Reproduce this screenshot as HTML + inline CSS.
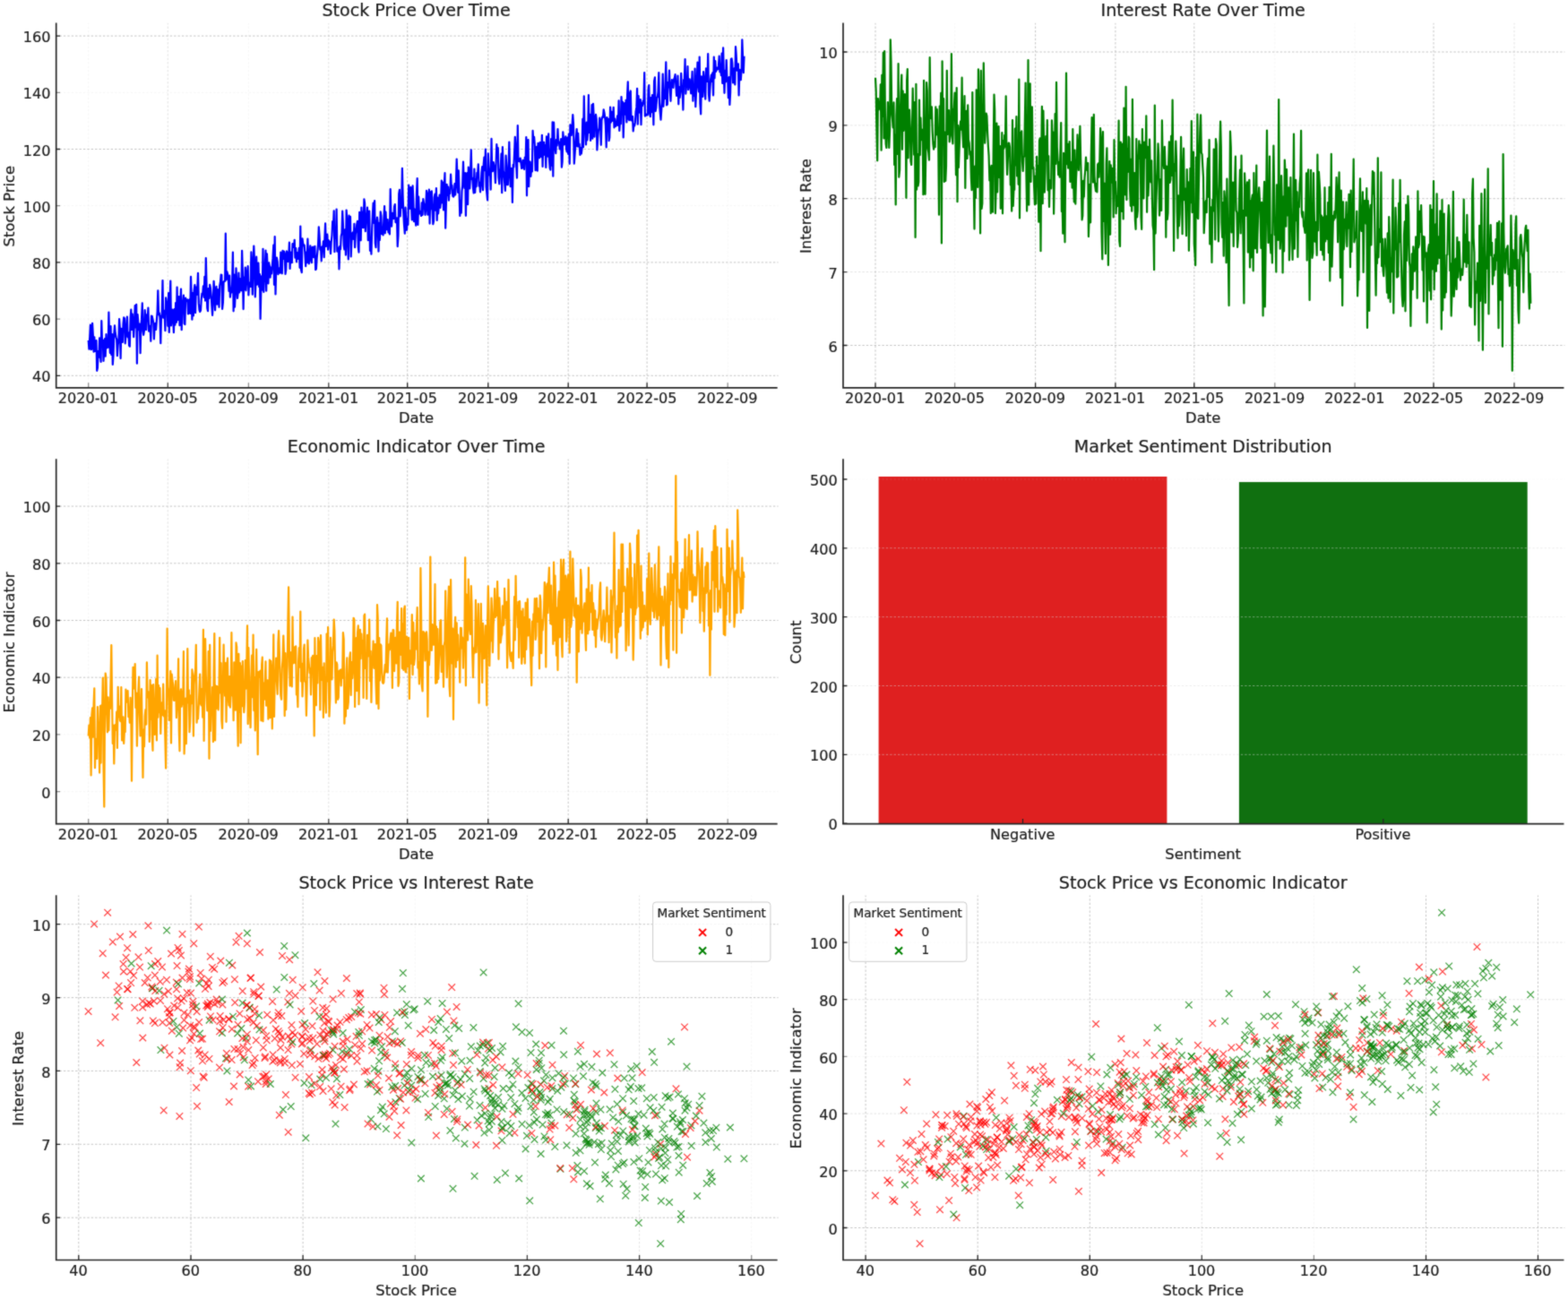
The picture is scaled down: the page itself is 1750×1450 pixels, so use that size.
<!DOCTYPE html>
<html lang="en"><head><meta charset="utf-8"><title>Market Data Overview</title><style>
html,body{margin:0;padding:0;background:#fff}
svg{display:block;filter:url(#bl);font-family:"DejaVu Sans","Liberation Sans",sans-serif}
text{fill:#1c1c1c;stroke:#222;stroke-width:.22px}
.tk{font-size:16.1px}
.lb{font-size:16.4px}
.ti{font-size:19.1px}
.lt{font-size:13.6px}
.grid{stroke:#c2c2c2;stroke-width:.95;stroke-dasharray:2.4 2;fill:none}
.gridb{stroke:#d9d9d9}
.spine{stroke:#262626;stroke-width:1.7;fill:none;stroke-linecap:square}
.tick{stroke:#262626;stroke-width:1.3;fill:none}
.ln{fill:none;stroke-width:2.2;stroke-linejoin:round}
.sc{fill:none;stroke-width:1.3;opacity:1}
.sc use{opacity:.7}
.lg{fill:#fff;fill-opacity:.8;stroke:#ccc;stroke-width:1}
</style></head><body><svg width="1750" height="1450" viewBox="0 0 1750 1450"><rect width="1750" height="1450" fill="#fff"/><defs><filter id="bl" x="0" y="0" width="100%" height="100%" color-interpolation-filters="sRGB"><feConvolveMatrix order="3" kernelMatrix="0.03 0.09 0.03 0.09 0.52 0.09 0.03 0.09 0.03" edgeMode="duplicate" preserveAlpha="false"/></filter><path id="m0" d="M-3.8-3.8l7.6 7.6m0-7.6l-7.6 7.6" stroke="#ff0000"/><path id="m1" d="M-3.8-3.8l7.6 7.6m0-7.6l-7.6 7.6" stroke="#008000"/></defs><path class="grid" opacity="1.0" d="M454.7 432.3V25.8M544.8 432.3V25.8M634.2 432.3V25.8M722.1 432.3V25.8M62.1 419.3H868.6M62.1 292.9H868.6M62.1 166.5H868.6M62.1 40.1H868.6"/><path class="grid" opacity="0.5" d="M187.3 432.3V25.8M366.8 432.3V25.8"/><path class="grid" opacity="0.16" d="M98.7 432.3V25.8M277.4 432.3V25.8M812.2 432.3V25.8M62.1 356.1H868.6M62.1 229.7H868.6M62.1 103.3H868.6"/>
<polyline class="ln" stroke="#0000ff" points="98.7,379.9 99.4,389.6 100.2,376.8 100.9,362.7 101.6,390.1 102.4,389.8 103.1,360.9 103.8,373.4 104.6,392.6 105.3,376.3 106,391.9 106.7,391.6 107.5,380.1 108.2,413.8 108.9,410.5 109.7,391.8 110.4,398.6 111.1,377.4 111.9,396.4 112.6,404 113.3,358.2 114.1,384.6 114.8,379.7 115.5,402.9 116.3,388.7 117,378 117.7,397.7 118.5,373.2 119.2,388.3 119.9,383.1 120.7,387.7 121.4,348.6 122.1,377.8 122.9,394 123.6,364 124.3,395.9 125.1,373 125.8,407 126.5,396.7 127.3,372.3 128,363.4 128.7,372 129.5,376.2 130.2,378.9 130.9,397.1 131.7,384.8 132.4,380.4 133.1,356.1 133.9,367.1 134.6,400.1 135.3,366.8 136.1,377.7 136.8,382 137.5,361.3 138.2,354.3 139,355.6 139.7,383.3 140.4,374.6 141.2,364.1 141.9,353.6 142.6,376.3 143.4,371.3 144.1,385.6 144.8,386.7 145.6,354.6 146.3,345.7 147,368 147.8,350.7 148.5,360.5 149.2,376.1 150,359.9 150.7,341 151.4,365.5 152.2,339.9 152.9,405.7 153.6,351 154.4,362.3 155.1,368.1 155.8,361.6 156.6,394.1 157.3,365.9 158,356.4 158.8,338.4 159.5,369.6 160.2,373.9 161,368.7 161.7,346 162.4,355 163.2,368.2 163.9,351.4 164.6,357.7 165.4,343.6 166.1,369.7 166.8,363.5 167.6,364.2 168.3,380.8 169,352.7 169.7,352.9 170.5,356.6 171.2,360.1 171.9,378.4 172.7,362.4 173.4,360.9 174.1,367.8 174.9,357.4 175.6,348.1 176.3,324.4 177.1,351.1 177.8,349.5 178.5,354.4 179.3,383.2 180,353 180.7,351.3 181.5,313 182.2,354.7 182.9,346.6 183.7,351.6 184.4,369.2 185.1,332.3 185.9,338.2 186.6,337.3 187.3,363.8 188.1,327 188.8,371 189.5,339.2 190.3,313.6 191,363.5 191.7,356.5 192.5,345.6 193.2,354.9 193.9,371.1 194.7,345.2 195.4,362.7 196.1,338.2 196.9,359.8 197.6,320.5 198.3,357.1 199.1,349.5 199.8,331.2 200.5,363.2 201.2,339.8 202,322.5 202.7,368.2 203.4,339.6 204.2,338.1 204.9,329.5 205.6,361.1 206.4,362.1 207.1,332.6 207.8,335.9 208.6,336.3 209.3,334.5 210,350.4 210.8,335.6 211.5,334.4 212.2,350 213,308.9 213.7,330.6 214.4,356.6 215.2,327 215.9,352.5 216.6,324.3 217.4,318.2 218.1,349.1 218.8,320.6 219.6,329 220.3,322.2 221,304.9 221.8,338.4 222.5,346.2 223.2,348 224,346.5 224.7,334.5 225.4,327.6 226.2,328.3 226.9,319.3 227.6,331.8 228.4,308.8 229.1,335.6 229.8,288.1 230.6,320.9 231.3,344 232,347.1 232.7,322.2 233.5,333 234.2,317.9 234.9,321.4 235.7,329.7 236.4,341.6 237.1,351.9 237.9,334.7 238.6,313.8 239.3,323.6 240.1,346.3 240.8,323.6 241.5,319.9 242.3,339.7 243,323 243.7,324.2 244.5,342.8 245.2,318.8 245.9,315.3 246.7,306.7 247.4,306.9 248.1,344.9 248.9,337.7 249.6,314.4 250.3,314.1 251.1,313.8 251.8,260.7 252.5,312.3 253.3,303 254,305.6 254.7,310 255.5,325 256.2,307.7 256.9,331.6 257.7,322.8 258.4,326.4 259.1,317.1 259.9,281.6 260.6,347.3 261.3,306.6 262,342.7 262.8,324.3 263.5,299.3 264.2,315.2 265,332.9 265.7,326.9 266.4,304.5 267.2,326.5 267.9,311.2 268.6,313.6 269.4,324.3 270.1,279.8 270.8,303.4 271.6,345.1 272.3,309.8 273,322.9 273.8,298.6 274.5,324.3 275.2,313.3 276,303.2 276.7,297.2 277.4,329.5 278.2,315.5 278.9,317.4 279.6,319.9 280.4,281.4 281.1,302.6 281.8,328.6 282.6,293.8 283.3,274.5 284,291.4 284.8,331.4 285.5,314.7 286.2,286.7 287,317.6 287.7,299.1 288.4,293.5 289.2,320.1 289.9,306.1 290.6,356 291.4,320.7 292.1,308.2 292.8,323.6 293.5,277.8 294.3,325.9 295,309.9 295.7,300.6 296.5,279.5 297.2,324.7 297.9,283.3 298.7,301.2 299.4,316.5 300.1,293.4 300.9,297.3 301.6,309.6 302.3,298.7 303.1,305.5 303.8,297.4 304.5,288.4 305.3,273.5 306,317.8 306.7,264.2 307.5,328.4 308.2,299.6 308.9,287.6 309.7,292.2 310.4,306.1 311.1,299.3 311.9,303.5 312.6,304.7 313.3,281.6 314.1,289.1 314.8,305.3 315.5,279.9 316.3,288.9 317,280.6 317.7,283.2 318.5,305.9 319.2,301.4 319.9,280.4 320.7,282.2 321.4,291.9 322.1,289.4 322.9,270.7 323.6,300 324.3,281.6 325,293.2 325.8,293.1 326.5,272 327.2,276 328,275.9 328.7,267.8 329.4,287.7 330.2,277 330.9,292.3 331.6,282 332.4,288.9 333.1,285 333.8,276.8 334.6,298.8 335.3,252.5 336,301.1 336.8,304.1 337.5,266.3 338.2,271.8 339,274.1 339.7,273.7 340.4,283.5 341.2,297.2 341.9,281.5 342.6,293.1 343.4,266.7 344.1,284.1 344.8,294.5 345.6,286.2 346.3,274.3 347,289.4 347.8,293.2 348.5,276 349.2,275.7 350,287.2 350.7,286.3 351.4,274.9 352.2,301.1 352.9,300.2 353.6,289 354.4,280.7 355.1,272.1 355.8,253.4 356.5,262.8 357.3,278.6 358,276 358.7,291.3 359.5,275.4 360.2,279.4 360.9,269.4 361.7,287.2 362.4,265.6 363.1,249.3 363.9,274.9 364.6,266.5 365.3,261.7 366.1,278.6 366.8,268.4 367.5,271.4 368.3,269.8 369,283.2 369.7,270.3 370.5,262.5 371.2,247.1 371.9,254.6 372.7,235.4 373.4,281.2 374.1,255 374.9,265.6 375.6,233.6 376.3,280.6 377.1,280.8 377.8,276.7 378.5,300.4 379.3,274.9 380,278.2 380.7,263.6 381.5,260.2 382.2,235.7 382.9,250 383.7,273.8 384.4,278.5 385.1,256.3 385.9,284.6 386.6,234.5 387.3,244.5 388,270.2 388.8,289.5 389.5,240.7 390.2,263.6 391,241.9 391.7,286.4 392.4,270.3 393.2,260.5 393.9,259.5 394.6,267 395.4,249.8 396.1,276.2 396.8,261.2 397.6,256.8 398.3,250.2 399,246.8 399.8,275.5 400.5,281.6 401.2,236.9 402,251.5 402.7,268.3 403.4,231.6 404.2,254 404.9,236.9 405.6,254.1 406.4,222.3 407.1,226.8 407.8,258.2 408.6,238.6 409.3,243.4 410,231.7 410.8,268.2 411.5,241.8 412.2,235.6 413,279.8 413.7,270.4 414.4,283.6 415.2,255.3 415.9,239.4 416.6,226.7 417.4,248.9 418.1,224.1 418.8,271.3 419.5,276.1 420.3,249.7 421,242.5 421.7,248.7 422.5,280.6 423.2,249 423.9,267.9 424.7,236.4 425.4,240.8 426.1,261.2 426.9,254.1 427.6,262.4 428.3,246.4 429.1,230 429.8,260.3 430.5,236.5 431.3,252.5 432,256.3 432.7,245.2 433.5,259.5 434.2,251.6 434.9,261.5 435.7,211.2 436.4,241.3 437.1,252.6 437.9,237.9 438.6,242.7 439.3,244.1 440.1,230.6 440.8,228 441.5,248.1 442.3,248.5 443,243.4 443.7,275.1 444.5,262.4 445.2,216.5 445.9,211.8 446.7,241.4 447.4,228 448.1,231.9 448.9,187.9 449.6,218.5 450.3,237.9 451,250.7 451.8,260.6 452.5,231.7 453.2,246.6 454,256.8 454.7,244.2 455.4,250.8 456.2,206.7 456.9,219.1 457.6,232.8 458.4,209 459.1,230.9 459.8,245.4 460.6,207.4 461.3,222.6 462,247.2 462.8,233.5 463.5,244 464.2,251.7 465,214.9 465.7,199.1 466.4,251 467.2,219.7 467.9,238.6 468.6,235.7 469.4,237 470.1,241 470.8,226.3 471.6,239.8 472.3,222.1 473,226.9 473.8,229.5 474.5,239.8 475.2,234.2 476,212.9 476.7,216.6 477.4,239.6 478.2,222.3 478.9,211.7 479.6,249.6 480.3,214.3 481.1,233.1 481.8,213.3 482.5,234 483.3,250.2 484,247 484.7,220.3 485.5,216.6 486.2,234.7 486.9,210 487.7,246 488.4,220.5 489.1,238.3 489.9,229.1 490.6,217.7 491.3,231.8 492.1,223.9 492.8,201.6 493.5,226.3 494.3,203.7 495,234.4 495.7,207.9 496.5,193.2 497.2,254.7 497.9,227.9 498.7,205.9 499.4,217.9 500.1,208.5 500.9,223.6 501.6,212.4 502.3,215.9 503.1,194.7 503.8,208.8 504.5,207.1 505.3,218.7 506,219.6 506.7,218.4 507.5,205 508.2,217.5 508.9,206 509.7,177.5 510.4,196.2 511.1,214.8 511.8,190.3 512.6,215.4 513.3,240.9 514,224.3 514.8,237.6 515.5,213.3 516.2,207.1 517,180.6 517.7,201.6 518.4,209.9 519.2,193.1 519.9,240.8 520.6,201.8 521.4,193 522.1,228.2 522.8,186.5 523.6,198.9 524.3,210.5 525,193.6 525.8,167.4 526.5,200.1 527.2,198.8 528,209.6 528.7,215.5 529.4,188.6 530.2,214.9 530.9,200 531.6,208.3 532.4,192.9 533.1,194.9 533.8,183.4 534.6,207.6 535.3,203.5 536,214.3 536.8,205.6 537.5,192.3 538.2,186 539,212.2 539.7,183.6 540.4,175.6 541.2,190.1 541.9,166.7 542.6,208.3 543.3,215.4 544.1,223.5 544.8,171.4 545.5,184.4 546.3,195.3 547,189.7 547.7,211.6 548.5,154.9 549.2,191.1 549.9,191.1 550.7,181.1 551.4,184.6 552.1,188.4 552.9,204.1 553.6,183.8 554.3,161.2 555.1,169.4 555.8,165.2 556.5,198.1 557.3,205.3 558,191.4 558.7,188.2 559.5,171.5 560.2,215.2 560.9,164 561.7,190.3 562.4,194.2 563.1,203.2 563.9,213 564.6,173.5 565.3,185.1 566.1,206.3 566.8,206.1 567.5,190.6 568.3,158.6 569,188.7 569.7,208.1 570.5,187.9 571.2,188 571.9,226 572.7,183.9 573.4,186.4 574.1,171.4 574.8,152.9 575.6,164 576.3,185.7 577,198.6 577.8,140.2 578.5,179.6 579.2,180 580,180.3 580.7,176.5 581.4,181.6 582.2,188 582.9,187.3 583.6,178.8 584.4,186.6 585.1,189 585.8,175.7 586.6,181.1 587.3,153 588,218.3 588.8,158.9 589.5,156.1 590.2,208.2 591,180.6 591.7,180.7 592.4,196.8 593.2,186.5 593.9,191.4 594.6,145.9 595.4,158.5 596.1,152.9 596.8,161.2 597.6,190.1 598.3,180.3 599,163.9 599.8,190.7 600.5,159.8 601.2,174.5 602,176.3 602.7,158.9 603.4,162.8 604.2,175.2 604.9,150.8 605.6,185.9 606.3,158.8 607.1,158.8 607.8,172.8 608.5,162.4 609.3,187 610,152.3 610.7,169.5 611.5,174.6 612.2,149.4 612.9,176.8 613.7,187.6 614.4,189.6 615.1,155.1 615.9,184.6 616.6,136.4 617.3,196.7 618.1,136.7 618.8,159.8 619.5,164.4 620.3,171.1 621,155.9 621.7,162.5 622.5,144.1 623.2,159.4 623.9,158.5 624.7,166.4 625.4,161.2 626.1,155.1 626.9,186.7 627.6,180.6 628.3,147.3 629.1,156 629.8,161.3 630.5,157.8 631.3,152.3 632,166 632.7,169.4 633.5,153.7 634.2,172 634.9,149.7 635.7,182.8 636.4,139.3 637.1,147.8 637.8,150.9 638.6,139.1 639.3,128 640,137.9 640.8,182.7 641.5,173.5 642.2,162.9 643,152.3 643.7,144.2 644.4,163.5 645.2,148.8 645.9,163.4 646.6,160.8 647.4,173 648.1,165.1 648.8,171.5 649.6,165.3 650.3,132.9 651,164.2 651.8,107.3 652.5,140.8 653.2,145.4 654,161.5 654.7,136.6 655.4,156.4 656.2,145.1 656.9,106.2 657.6,147.9 658.4,127.9 659.1,156.9 659.8,146 660.6,117.1 661.3,154.7 662,115.8 662.8,133 663.5,152.7 664.2,133.5 665,127.8 665.7,133.1 666.4,167.4 667.2,153.8 667.9,145.9 668.6,142.8 669.3,131.5 670.1,138.2 670.8,161.8 671.5,134.4 672.3,130.4 673,130.9 673.7,122.3 674.5,125.9 675.2,131.5 675.9,139.6 676.7,164.4 677.4,131 678.1,134.2 678.9,132.9 679.6,157.1 680.3,153.6 681.1,119.6 681.8,136.6 682.5,124.9 683.3,134.9 684,134.5 684.7,119.8 685.5,142.5 686.2,132.5 686.9,141 687.7,140.3 688.4,138 689.1,129.3 689.9,140 690.6,112.3 691.3,146 692.1,134.5 692.8,138.1 693.5,108 694.3,127.5 695,113.9 695.7,153.4 696.5,125.4 697.2,115.2 697.9,127.7 698.6,111.8 699.4,136.5 700.1,105.8 700.8,91.4 701.6,133.1 702.3,134.1 703,103.8 703.8,101.5 704.5,134.4 705.2,132.5 706,130 706.7,146.4 707.4,139.4 708.2,140.4 708.9,136.4 709.6,124.5 710.4,119.9 711.1,98.8 711.8,138.7 712.6,107.1 713.3,125.7 714,122.8 714.8,111 715.5,139.1 716.2,115 717,118.1 717.7,112.7 718.4,115.6 719.2,81 719.9,129.6 720.6,127.6 721.4,128.7 722.1,127.3 722.8,128.3 723.6,99.1 724.3,95.1 725,126.3 725.8,130.1 726.5,109.2 727.2,125.1 728,106 728.7,112.5 729.4,139.3 730.1,90.6 730.9,86.4 731.6,124.1 732.3,120.2 733.1,109.3 733.8,108.2 734.5,102.8 735.3,81.1 736,115.3 736.7,124.8 737.5,133.7 738.2,123.1 738.9,111.8 739.7,82.6 740.4,118.8 741.1,106.8 741.9,110.3 742.6,90.9 743.3,69.4 744.1,117.4 744.8,116.5 745.5,91.9 746.3,97.3 747,78.6 747.7,98.2 748.5,112.8 749.2,97.5 749.9,89 750.7,93.2 751.4,97.9 752.1,88.7 752.9,86.8 753.6,83.1 754.3,94.4 755.1,106.9 755.8,101.7 756.5,84.6 757.3,116.3 758,97.2 758.7,108.9 759.5,102 760.2,81.9 760.9,98.8 761.6,100.7 762.4,122.6 763.1,89 763.8,90.3 764.6,66 765.3,104.7 766,96.1 766.8,95.3 767.5,74 768.2,100.1 769,93.9 769.7,88.4 770.4,94.7 771.2,104.4 771.9,94 772.6,79.8 773.4,112.6 774.1,94 774.8,106.8 775.6,76.6 776.3,119.2 777,103.6 777.8,88.5 778.5,69.5 779.2,94.9 780,102.3 780.7,63.5 781.4,115.8 782.2,127.3 782.9,85.3 783.6,99.9 784.4,107.8 785.1,80.1 785.8,87.2 786.6,99.6 787.3,110.6 788,76.3 788.8,79.5 789.5,91 790.2,60 791,105.7 791.7,112.6 792.4,99.1 793.1,88.6 793.9,83.7 794.6,91 795.3,81.3 796.1,106.4 796.8,63.5 797.5,87.3 798.3,68 799,79.9 799.7,77.8 800.5,75.7 801.2,77.3 801.9,73.9 802.7,62.7 803.4,80.3 804.1,71.9 804.9,84.2 805.6,59.7 806.3,92.9 807.1,53.4 807.8,82.2 808.5,103.8 809.3,78.9 810,91.3 810.7,67 811.5,90.3 812.2,86.7 812.9,109.2 813.7,86.2 814.4,117 815.1,103.4 815.9,66 816.6,65.3 817.3,70.7 818.1,92.4 818.8,77.5 819.5,76.5 820.3,94.5 821,52.1 821.7,61.7 822.5,78.7 823.2,74.5 823.9,71.3 824.6,106.5 825.4,77.8 826.1,84.4 826.8,89.1 827.6,77.4 828.3,44.3 829,62.2 829.8,81.1 830.5,62.7"/>
<path class="spine" d="M62.7 26.4V432.8H866.8"/><text class="tk" x="98.4" y="449.9" text-anchor="middle">2020-01</text><text class="tk" x="187" y="449.9" text-anchor="middle">2020-05</text><text class="tk" x="277.1" y="449.9" text-anchor="middle">2020-09</text><text class="tk" x="366.5" y="449.9" text-anchor="middle">2021-01</text><text class="tk" x="454.4" y="449.9" text-anchor="middle">2021-05</text><text class="tk" x="544.5" y="449.9" text-anchor="middle">2021-09</text><text class="tk" x="633.9" y="449.9" text-anchor="middle">2022-01</text><text class="tk" x="721.8" y="449.9" text-anchor="middle">2022-05</text><text class="tk" x="811.9" y="449.9" text-anchor="middle">2022-09</text><text class="tk" x="56.5" y="426.4" text-anchor="end">40</text><text class="tk" x="56.5" y="363.2" text-anchor="end">60</text><text class="tk" x="56.5" y="300" text-anchor="end">80</text><text class="tk" x="56.5" y="236.8" text-anchor="end">100</text><text class="tk" x="56.5" y="173.6" text-anchor="end">120</text><text class="tk" x="56.5" y="110.4" text-anchor="end">140</text><text class="tk" x="56.5" y="47.2" text-anchor="end">160</text><path class="tick" opacity="1.0" d="M454.7 432.3v-5M544.8 432.3v-5M634.2 432.3v-5M722.1 432.3v-5M62.1 419.3h5M62.1 292.9h5M62.1 166.5h5M62.1 40.1h5"/><path class="tick" opacity="0.85" d="M187.3 432.3v-5M366.8 432.3v-5"/><path class="tick" opacity="0.5" d="M98.7 432.3v-5M277.4 432.3v-5M812.2 432.3v-5M62.1 356.1h5M62.1 229.7h5M62.1 103.3h5"/><text class="ti" x="464.6" y="18.4" text-anchor="middle">Stock Price Over Time</text><text class="lb" x="464.6" y="472" text-anchor="middle">Date</text><text class="lb" transform="translate(16.2 230.1) rotate(-90)" text-anchor="middle">Stock Price</text>
<path class="grid" opacity="1.0" d="M977 432.3V25.8M1155.6 432.3V25.8M1244.9 432.3V25.8M1332.8 432.3V25.8M1600 432.3V25.8M940.4 385.5H1746.4M940.4 221.7H1746.4M940.4 58H1746.4"/><path class="grid" opacity="0.5" d="M1690 432.3V25.8M940.4 303.6H1746.4M940.4 139.9H1746.4"/><path class="grid" opacity="0.16" d="M1065.6 432.3V25.8M1422.8 432.3V25.8M1512.1 432.3V25.8"/>
<polyline class="ln" stroke="#008000" points="977,86.7 977.7,101.1 978.4,143.1 979.2,179.3 979.9,110 980.6,122.7 981.4,117.1 982.1,121.3 982.8,94.4 983.6,167.7 984.3,83.8 985,129.8 985.8,58.9 986.5,154.5 987.2,57 987.9,129.6 988.7,160.9 989.4,165 990.1,148.5 990.9,114.1 991.6,133.7 992.3,164.9 993.1,145 993.8,44.3 994.5,68.6 995.3,127 996,133.2 996.7,142.5 997.5,114.4 998.2,184.1 998.9,150.4 999.7,228.4 1000.4,128.7 1001.1,110.1 1001.9,172 1002.6,71.2 1003.3,197.7 1004.1,189.8 1004.8,126 1005.5,105 1006.3,83.5 1007,166.8 1007.7,101.6 1008.4,146 1009.2,142 1009.9,105.2 1010.6,116.9 1011.4,220.8 1012.1,90.1 1012.8,77 1013.6,176.3 1014.3,128.9 1015,122.6 1015.8,142.9 1016.5,179.7 1017.2,184 1018,143.2 1018.7,98.7 1019.4,129.8 1020.2,172.7 1020.9,114.2 1021.6,265 1022.4,93.9 1023.1,211.6 1023.8,171.9 1024.6,207.5 1025.3,203.1 1026,111.5 1026.8,173.1 1027.5,131.7 1028.2,156.2 1028.9,144.6 1029.7,148.2 1030.4,217.2 1031.1,89.8 1031.9,179.1 1032.6,216.8 1033.3,167.6 1034.1,92 1034.8,101.7 1035.5,165.5 1036.3,170.4 1037,178.6 1037.7,64.2 1038.5,131.4 1039.2,132.1 1039.9,119.3 1040.7,147 1041.4,160.6 1042.1,166.7 1042.9,158.3 1043.6,164.2 1044.3,119.4 1045.1,150.3 1045.8,122.1 1046.5,146.8 1047.2,154.8 1048,239.7 1048.7,118.5 1049.4,140 1050.2,103.8 1050.9,271.5 1051.6,68.3 1052.4,155.9 1053.1,110.2 1053.8,203 1054.6,147.6 1055.3,202 1056,185.2 1056.8,78.8 1057.5,150 1058.2,148.9 1059,123.1 1059.7,158.3 1060.4,150.8 1061.2,146.2 1061.9,60.2 1062.6,151.8 1063.4,160.3 1064.1,122.5 1064.8,120.8 1065.6,103.7 1066.3,145.2 1067,195.3 1067.7,98.1 1068.5,225.2 1069.2,140 1069.9,186.9 1070.7,164.3 1071.4,143.4 1072.1,135.3 1072.9,144.6 1073.6,86.7 1074.3,147 1075.1,164.3 1075.8,135.2 1076.5,107.1 1077.3,209.9 1078,144.7 1078.7,123.9 1079.5,176.9 1080.2,117.4 1080.9,156.1 1081.7,159.7 1082.4,172.7 1083.1,169.4 1083.9,198.6 1084.6,212.1 1085.3,103.1 1086.1,201.4 1086.8,207.1 1087.5,255.6 1088.2,185.4 1089,221 1089.7,100.3 1090.4,118.1 1091.2,208.9 1091.9,77.3 1092.6,115.8 1093.4,184.6 1094.1,260.4 1094.8,78.9 1095.6,232.8 1096.3,227.2 1097,132.8 1097.8,70.4 1098.5,117.1 1099.2,159.7 1100,141.1 1100.7,126.5 1101.4,129.4 1102.2,149.7 1102.9,163.2 1103.6,173.6 1104.4,201.5 1105.1,186.8 1105.8,238.1 1106.5,184.8 1107.3,207.3 1108,236.7 1108.7,167.1 1109.5,105.5 1110.2,123.3 1110.9,238.1 1111.7,208.7 1112.4,137.5 1113.1,214.5 1113.9,179.1 1114.6,141.2 1115.3,198.1 1116.1,163 1116.8,232.8 1117.5,197.7 1118.3,148.2 1119,238.3 1119.7,157 1120.5,165.6 1121.2,150.8 1121.9,163.6 1122.7,107.3 1123.4,170.5 1124.1,195 1124.9,176.8 1125.6,159.5 1126.3,160 1127,164.1 1127.8,206.6 1128.5,205.1 1129.2,235.6 1130,134 1130.7,229.9 1131.4,212.1 1132.2,211.8 1132.9,143.5 1133.6,184.4 1134.4,130.2 1135.1,196.5 1135.8,162.1 1136.6,205.8 1137.3,88.6 1138,243.5 1138.8,148.1 1139.5,155.9 1140.2,146.3 1141,180.3 1141.7,191 1142.4,175.6 1143.2,174.3 1143.9,131.9 1144.6,92.5 1145.4,194.4 1146.1,235.6 1146.8,181.9 1147.5,67.1 1148.3,228.7 1149,116.5 1149.7,93.3 1150.5,202.9 1151.2,150.2 1151.9,119.4 1152.7,188.2 1153.4,186.8 1154.1,207.5 1154.9,228.3 1155.6,196.6 1156.3,227.4 1157.1,174.9 1157.8,206.5 1158.5,185.4 1159.3,247.7 1160,157 1160.7,154.4 1161.5,280.2 1162.2,174.5 1162.9,118.8 1163.7,227.2 1164.4,123.7 1165.1,159 1165.8,214.7 1166.6,190.9 1167.3,152 1168,179.1 1168.8,134.2 1169.5,212.3 1170.2,174.1 1171,231 1171.7,201.4 1172.4,208.9 1173.2,210.3 1173.9,134.4 1174.6,151.3 1175.4,147.6 1176.1,238.7 1176.8,197.7 1177.6,127.1 1178.3,182.9 1179,91.8 1179.8,164.3 1180.5,178.1 1181.2,195.1 1182,181.2 1182.7,197.6 1183.4,170.1 1184.2,137 1184.9,236.1 1185.6,225.1 1186.3,260.7 1187.1,170.9 1187.8,234.5 1188.5,270.3 1189.3,169.8 1190,81.5 1190.7,183.2 1191.5,160.5 1192.2,187.6 1192.9,186.6 1193.7,158.1 1194.4,203 1195.1,184.4 1195.9,180.9 1196.6,209.6 1197.3,144 1198.1,202.7 1198.8,225.5 1199.5,167.6 1200.3,227.6 1201,199.3 1201.7,185.7 1202.5,150.4 1203.2,169.4 1203.9,189.9 1204.6,166.4 1205.4,140.9 1206.1,175 1206.8,201.6 1207.6,245.4 1208.3,240.9 1209,201.8 1209.8,219.6 1210.5,198.7 1211.2,190.8 1212,175.7 1212.7,188.8 1213.4,190 1214.2,182.1 1214.9,264.1 1215.6,241.2 1216.4,205.8 1217.1,248.3 1217.8,174.4 1218.6,131.2 1219.3,136.9 1220,203.6 1220.8,127.9 1221.5,196.5 1222.2,207.4 1223,213.3 1223.7,204.9 1224.4,214.5 1225.1,183.8 1225.9,182.3 1226.6,197.6 1227.3,180 1228.1,143.2 1228.8,153.5 1229.5,259.1 1230.3,289.3 1231,147 1231.7,247 1232.5,204.5 1233.2,247.7 1233.9,283.2 1234.7,182.4 1235.4,165.3 1236.1,221.3 1236.9,295.9 1237.6,220.4 1238.3,180 1239.1,261.7 1239.8,184.4 1240.5,203.8 1241.3,187.9 1242,193.4 1242.7,242.5 1243.5,156.2 1244.2,202.9 1244.9,202.8 1245.6,238.3 1246.4,219.1 1247.1,230.2 1247.8,207.8 1248.6,134.7 1249.3,268.9 1250,274.9 1250.8,158.6 1251.5,203.6 1252.2,236 1253,160.6 1253.7,244.5 1254.4,120.6 1255.2,167.5 1255.9,217.4 1256.6,96.8 1257.4,223.1 1258.1,166.2 1258.8,192 1259.6,152.6 1260.3,154.7 1261,209.9 1261.8,229.8 1262.5,177.6 1263.2,235.7 1263.9,110.9 1264.7,213.7 1265.4,229.1 1266.1,193.2 1266.9,245.9 1267.6,255.8 1268.3,155 1269.1,242.3 1269.8,235.2 1270.5,178.7 1271.3,157.3 1272,176.9 1272.7,161.6 1273.5,242.3 1274.2,255.9 1274.9,144 1275.7,220.9 1276.4,221.4 1277.1,158.5 1277.9,175.3 1278.6,176.2 1279.3,129.4 1280.1,236.8 1280.8,163.8 1281.5,218.4 1282.3,198.2 1283,155.5 1283.7,188.3 1284.4,203.5 1285.2,179.3 1285.9,221.9 1286.6,251.5 1287.4,257.4 1288.1,301.2 1288.8,117.6 1289.6,260.6 1290.3,227.7 1291,207.1 1291.8,188.1 1292.5,160.4 1293.2,173.2 1294,240.6 1294.7,230.1 1295.4,200.2 1296.2,234.9 1296.9,134.4 1297.6,177.6 1298.4,181.3 1299.1,188 1299.8,163.8 1300.6,188 1301.3,264.8 1302,185.6 1302.8,245 1303.5,237.6 1304.2,181.4 1304.9,158.4 1305.7,203.9 1306.4,200.5 1307.1,151.9 1307.9,196 1308.6,111.7 1309.3,186.8 1310.1,280 1310.8,182.9 1311.5,190.7 1312.3,157.6 1313,177.7 1313.7,237 1314.5,265.8 1315.2,218.4 1315.9,252.3 1316.7,238.8 1317.4,190.2 1318.1,152.9 1318.9,206.5 1319.6,261.2 1320.3,193.8 1321.1,165.7 1321.8,223.2 1322.5,210.3 1323.2,228 1324,263.2 1324.7,189.2 1325.4,227.6 1326.2,203.4 1326.9,279.8 1327.6,245.5 1328.4,187.9 1329.1,226.2 1329.8,135 1330.6,237.1 1331.3,203.8 1332,169.5 1332.8,272.3 1333.5,282.9 1334.2,296.1 1335,175.6 1335.7,242.7 1336.4,127.7 1337.2,244.2 1337.9,206.1 1338.6,170.2 1339.4,143.3 1340.1,128.3 1340.8,170.3 1341.6,172.4 1342.3,186.1 1343,197.5 1343.7,260.2 1344.5,244.2 1345.2,227.1 1345.9,224.1 1346.7,237.2 1347.4,189.5 1348.1,176.8 1348.9,219.9 1349.6,156 1350.3,272.4 1351.1,231.1 1351.8,251.2 1352.5,292.9 1353.3,222.8 1354,235.5 1354.7,166.6 1355.5,190.8 1356.2,267.5 1356.9,155.2 1357.7,161.5 1358.4,205.9 1359.1,229.3 1359.9,269.5 1360.6,234.7 1361.3,166.6 1362.1,135.6 1362.8,163.5 1363.5,248.6 1364.2,265 1365,226.2 1365.7,285.7 1366.4,213.3 1367.2,223.4 1367.9,241.1 1368.6,293.2 1369.4,199.7 1370.1,246.5 1370.8,284.2 1371.6,341.1 1372.3,236.4 1373,146.7 1373.8,165 1374.5,259.4 1375.2,233.5 1376,203.5 1376.7,275 1377.4,215.5 1378.2,201.4 1378.9,174.7 1379.6,234.8 1380.4,237.2 1381.1,275.9 1381.8,266.4 1382.5,242.7 1383.3,212.4 1384,189.6 1384.7,260.5 1385.5,173.5 1386.2,239.1 1386.9,234.9 1387.7,279.4 1388.4,338.4 1389.1,193.3 1389.9,212 1390.6,240.7 1391.3,213.2 1392.1,203.4 1392.8,281.6 1393.5,251.9 1394.3,200.9 1395,298.5 1395.7,224.3 1396.5,287.5 1397.2,221.7 1397.9,217.5 1398.7,302.3 1399.4,193.1 1400.1,252.6 1400.9,277.3 1401.6,229.5 1402.3,184.7 1403,282 1403.8,251.5 1404.5,219.5 1405.2,209.4 1406,224.9 1406.7,244.2 1407.4,276.9 1408.2,225.9 1408.9,281.1 1409.6,352.4 1410.4,223 1411.1,202.8 1411.8,342.5 1412.6,274.6 1413.3,210 1414,145.5 1414.8,233.4 1415.5,270.9 1416.2,251.9 1417,174.5 1417.7,272.1 1418.4,282.5 1419.2,262 1419.9,293.4 1420.6,227.8 1421.4,162.7 1422.1,211.7 1422.8,262.3 1423.5,257.2 1424.3,303.6 1425,206.3 1425.7,234.3 1426.5,267.9 1427.2,111 1427.9,229.5 1428.7,277.7 1429.4,262.6 1430.1,196.2 1430.9,230.4 1431.6,304.4 1432.3,219.6 1433.1,280.4 1433.8,178.5 1434.5,193.9 1435.3,252.7 1436,189.2 1436.7,240.5 1437.5,217 1438.2,209.4 1438.9,290.5 1439.7,268.5 1440.4,198 1441.1,249.2 1441.8,246.9 1442.6,290 1443.3,227.5 1444,149.5 1444.8,277.7 1445.5,241 1446.2,200.8 1447,246.2 1447.7,214.4 1448.4,286.9 1449.2,225.8 1449.9,231.3 1450.6,205.1 1451.4,195.6 1452.1,145.9 1452.8,237.8 1453.6,242.5 1454.3,236.6 1455,252.3 1455.8,254.3 1456.5,259.8 1457.2,240.6 1458,193.4 1458.7,290.6 1459.4,200 1460.2,189.4 1460.9,248.6 1461.6,335 1462.3,269 1463.1,189.8 1463.8,250.7 1464.5,287.9 1465.3,282.2 1466,193.2 1466.7,236.1 1467.5,269.7 1468.2,247.9 1468.9,263.3 1469.7,284.9 1470.4,172.7 1471.1,257.3 1471.9,191.8 1472.6,202.9 1473.3,217.8 1474.1,279.2 1474.8,240.7 1475.5,243.2 1476.3,284.4 1477,242.6 1477.7,290.2 1478.5,209.4 1479.2,269.4 1479.9,241.2 1480.7,246.9 1481.4,267 1482.1,226 1482.8,282.1 1483.6,208.8 1484.3,313.6 1485,253.3 1485.8,171.9 1486.5,297.6 1487.2,271.6 1488,240.8 1488.7,245.6 1489.4,236 1490.2,243.3 1490.9,223.2 1491.6,198.1 1492.4,225.7 1493.1,270.3 1493.8,217.6 1494.6,192.3 1495.3,244.3 1496,309.9 1496.8,212.7 1497.5,260.5 1498.2,341.1 1499,225.3 1499.7,278.5 1500.4,269.8 1501.1,244.6 1501.9,250.8 1502.6,225.5 1503.3,275.1 1504.1,239.4 1504.8,254.7 1505.5,216.9 1506.3,239.3 1507,298.2 1507.7,212.7 1508.5,281 1509.2,228.8 1509.9,239.7 1510.7,177.7 1511.4,270.3 1512.1,266 1512.9,264 1513.6,258.5 1514.3,235.9 1515.1,330.4 1515.8,305.7 1516.5,312.4 1517.3,235.6 1518,199.3 1518.7,250.4 1519.5,257.8 1520.2,253.5 1520.9,214.3 1521.6,304 1522.4,246.3 1523.1,223.8 1523.8,235.6 1524.6,249.7 1525.3,210.1 1526,365.9 1526.8,224.2 1527.5,281.9 1528.2,346.9 1529,234.8 1529.7,228.9 1530.4,273.5 1531.2,226.5 1531.9,191.1 1532.6,216.2 1533.4,192.6 1534.1,235.2 1534.8,282.6 1535.6,329.7 1536.3,284.6 1537,294 1537.8,176.3 1538.5,287.3 1539.2,255.6 1539.9,258.2 1540.7,270.1 1541.4,192.3 1542.1,297.1 1542.9,266.6 1543.6,302.2 1544.3,308.1 1545.1,286.2 1545.8,266.7 1546.5,284.4 1547.3,301 1548,326.7 1548.7,260.4 1549.5,332.8 1550.2,242.1 1550.9,269.6 1551.7,337.1 1552.4,288.2 1553.1,303.4 1553.9,255.4 1554.6,200.7 1555.3,349.6 1556.1,266.5 1556.8,278.5 1557.5,231.9 1558.3,252.4 1559,309.6 1559.7,283.1 1560.4,308.7 1561.2,226.9 1561.9,270.2 1562.6,200.9 1563.4,269.4 1564.1,301.1 1564.8,329.7 1565.6,341.9 1566.3,334.1 1567,262.9 1567.8,247.4 1568.5,347.3 1569.2,228.5 1570,290.9 1570.7,263.2 1571.4,218.8 1572.2,238 1572.9,292.7 1573.6,297.8 1574.4,363.9 1575.1,310.5 1575.8,283.3 1576.6,323.2 1577.3,275.4 1578,282.8 1578.8,302.6 1579.5,298.4 1580.2,264.4 1580.9,268.9 1581.7,332.8 1582.4,213.4 1583.1,276.2 1583.9,272.7 1584.6,235.9 1585.3,259 1586.1,229 1586.8,258.4 1587.5,301.4 1588.3,263.9 1589,336.4 1589.7,264.4 1590.5,286.6 1591.2,284.2 1591.9,282.4 1592.7,360.3 1593.4,291.2 1594.1,277.4 1594.9,273 1595.6,324.5 1596.3,229.1 1597.1,334.3 1597.8,234 1598.5,257.2 1599.2,300.5 1600,202.1 1600.7,323.2 1601.4,251.8 1602.2,250.5 1602.9,302.8 1603.6,216.4 1604.4,294.4 1605.1,264.2 1605.8,275.2 1606.6,288 1607.3,235.4 1608,261.3 1608.8,367.6 1609.5,223.1 1610.2,346.5 1611,241.9 1611.7,238.6 1612.4,332.2 1613.2,315.6 1613.9,326.3 1614.6,284.9 1615.4,284.1 1616.1,245.1 1616.8,229.2 1617.6,240.9 1618.3,302.2 1619,294 1619.7,352.6 1620.5,326.7 1621.2,265.3 1621.9,213.8 1622.7,331 1623.4,317.4 1624.1,291.4 1624.9,288.6 1625.6,323 1626.3,265 1627.1,309.7 1627.8,295.3 1628.5,270.1 1629.3,289.8 1630,312.7 1630.7,300.3 1631.5,301.3 1632.2,307 1632.9,296 1633.7,222.7 1634.4,274 1635.1,292.6 1635.9,261.9 1636.6,298 1637.3,239.9 1638.1,283.2 1638.8,294 1639.5,270.3 1640.2,341.5 1641,340.8 1641.7,342.9 1642.4,300.7 1643.2,215.6 1643.9,199.6 1644.6,265.3 1645.4,281.9 1646.1,362.6 1646.8,314.3 1647.6,327.2 1648.3,317.1 1649,293.6 1649.8,311.4 1650.5,380.5 1651.2,251.8 1652,336 1652.7,275.6 1653.4,216.2 1654.2,316.7 1654.9,390.7 1655.6,306.6 1656.4,259.7 1657.1,211.4 1657.8,338.1 1658.5,287.5 1659.3,299.8 1660,279.1 1660.7,188.3 1661.5,350.5 1662.2,274.5 1662.9,280.1 1663.7,251.2 1664.4,285.2 1665.1,270.9 1665.9,317.3 1666.6,288.6 1667.3,307.7 1668.1,284.3 1668.8,301.1 1669.5,267 1670.3,290.6 1671,248.8 1671.7,299.5 1672.5,366.2 1673.2,247 1673.9,322.7 1674.7,334.7 1675.4,320 1676.1,249.3 1676.9,386.8 1677.6,172 1678.3,258.3 1679,291.6 1679.8,304.7 1680.5,296.6 1681.2,277.8 1682,277.1 1682.7,274.4 1683.4,306.2 1684.2,300.7 1684.9,319.3 1685.6,306.2 1686.4,240.6 1687.1,275.6 1687.8,413.8 1688.6,279.2 1689.3,286 1690,296.6 1690.8,300.1 1691.5,250.1 1692.2,241.4 1693,318.8 1693.7,289.9 1694.4,346.7 1695.2,360.6 1695.9,318.6 1696.6,265.3 1697.4,262.1 1698.1,270.8 1698.8,284.1 1699.5,287.7 1700.3,326.3 1701,284.5 1701.7,271.1 1702.5,254.7 1703.2,251.8 1703.9,268.1 1704.7,280.2 1705.4,256.9 1706.1,318.9 1706.9,344.6 1707.6,305.5 1708.3,338.8"/>
<path class="spine" d="M941 26.4V432.8H1744.6"/><text class="tk" x="976.7" y="449.9" text-anchor="middle">2020-01</text><text class="tk" x="1065.3" y="449.9" text-anchor="middle">2020-05</text><text class="tk" x="1155.3" y="449.9" text-anchor="middle">2020-09</text><text class="tk" x="1244.6" y="449.9" text-anchor="middle">2021-01</text><text class="tk" x="1332.5" y="449.9" text-anchor="middle">2021-05</text><text class="tk" x="1422.5" y="449.9" text-anchor="middle">2021-09</text><text class="tk" x="1511.8" y="449.9" text-anchor="middle">2022-01</text><text class="tk" x="1599.7" y="449.9" text-anchor="middle">2022-05</text><text class="tk" x="1689.7" y="449.9" text-anchor="middle">2022-09</text><text class="tk" x="934.8" y="392.6" text-anchor="end">6</text><text class="tk" x="934.8" y="310.7" text-anchor="end">7</text><text class="tk" x="934.8" y="228.8" text-anchor="end">8</text><text class="tk" x="934.8" y="147" text-anchor="end">9</text><text class="tk" x="934.8" y="65.1" text-anchor="end">10</text><path class="tick" opacity="1.0" d="M977 432.3v-5M1155.6 432.3v-5M1244.9 432.3v-5M1332.8 432.3v-5M1600 432.3v-5M940.4 385.5h5M940.4 221.7h5M940.4 58h5"/><path class="tick" opacity="0.85" d="M1690 432.3v-5M940.4 303.6h5M940.4 139.9h5"/><path class="tick" opacity="0.5" d="M1065.6 432.3v-5M1422.8 432.3v-5M1512.1 432.3v-5"/><text class="ti" x="1342.7" y="18.4" text-anchor="middle">Interest Rate Over Time</text><text class="lb" x="1342.7" y="472" text-anchor="middle">Date</text><text class="lb" transform="translate(905 230.1) rotate(-90)" text-anchor="middle">Interest Rate</text>
<path class="grid" opacity="1.0" d="M454.7 919.1V512.6M544.8 919.1V512.6M634.2 919.1V512.6M722.1 919.1V512.6M62.1 756.2H868.6M62.1 692.5H868.6M62.1 628.8H868.6M62.1 565.1H868.6"/><path class="grid" opacity="0.5" d="M187.3 919.1V512.6M366.8 919.1V512.6"/><path class="grid" opacity="0.16" d="M98.7 919.1V512.6M277.4 919.1V512.6M812.2 919.1V512.6M62.1 883.6H868.6M62.1 819.9H868.6"/>
<polyline class="ln" stroke="#ffa500" points="98.7,821.5 99.4,809.5 100.2,823.7 100.9,801.2 101.6,865.5 102.4,798.2 103.1,790.4 103.8,822.7 104.6,785.4 105.3,768.3 106,857.2 106.7,830.2 107.5,824.6 108.2,847 108.9,789 109.7,812.2 110.4,817.9 111.1,862.6 111.9,788.1 112.6,851.6 113.3,787.2 114.1,793.6 114.8,756.6 115.5,853.3 116.3,900.6 117,793.2 117.7,751.6 118.5,757.2 119.2,797.6 119.9,817.3 120.7,778.3 121.4,815.3 122.1,783.8 122.9,791 123.6,758.2 124.3,720.2 125.1,784 125.8,829.9 126.5,809.3 127.3,852.5 128,813.8 128.7,809.1 129.5,814.9 130.2,794.6 130.9,834.9 131.7,766.8 132.4,800.3 133.1,788.3 133.9,804 134.6,805.2 135.3,767.1 136.1,826.5 136.8,822 137.5,800.3 138.2,830 139,813.9 139.7,816.9 140.4,769.5 141.2,783.7 141.9,780.6 142.6,771.1 143.4,800.1 144.1,790.4 144.8,806.7 145.6,778.8 146.3,801.3 147,871.7 147.8,789.6 148.5,744.9 149.2,768.6 150,759.2 150.7,741 151.4,789.9 152.2,773.6 152.9,832.7 153.6,795.5 154.4,771.5 155.1,755.7 155.8,795.2 156.6,821.5 157.3,792.9 158,769 158.8,825.1 159.5,868 160.2,814.5 161,833.3 161.7,799.1 162.4,792.2 163.2,808.6 163.9,739.4 164.6,778.4 165.4,772.2 166.1,775.1 166.8,828 167.6,759 168.3,802.9 169,764.9 169.7,820.5 170.5,837.8 171.2,764 171.9,787.3 172.7,819.9 173.4,818.1 174.1,758.1 174.9,826.5 175.6,731.7 176.3,800.7 177.1,765.2 177.8,795.1 178.5,768 179.3,819 180,791.7 180.7,784.3 181.5,798.2 182.2,763.7 182.9,799.6 183.7,793 184.4,826.3 185.1,857.6 185.9,785.1 186.6,701.7 187.3,766.9 188.1,773.9 188.8,803.9 189.5,778.8 190.3,749.2 191,829.4 191.7,752.7 192.5,760 193.2,764.5 193.9,781.6 194.7,781.9 195.4,769.9 196.1,760.1 196.9,801.2 197.6,788.4 198.3,785.3 199.1,735.3 199.8,814.9 200.5,838.3 201.2,774.6 202,769.4 202.7,788.6 203.4,771.9 204.2,786 204.9,727.2 205.6,841.5 206.4,817.4 207.1,779.5 207.8,830.2 208.6,783.6 209.3,724.2 210,784.5 210.8,770.4 211.5,817.2 212.2,804.6 213,776.2 213.7,785.3 214.4,747.4 215.2,755.6 215.9,821.6 216.6,764.2 217.4,753 218.1,748.2 218.8,719.8 219.6,806.7 220.3,796.8 221,802.3 221.8,786.6 222.5,768.2 223.2,752.5 224,785.6 224.7,787.3 225.4,768.8 226.2,800.6 226.9,702.9 227.6,827 228.4,758.3 229.1,713.2 229.8,753.5 230.6,776.3 231.3,793.3 232,789.2 232.7,727.2 233.5,846.8 234.2,719.9 234.9,815.9 235.7,783.2 236.4,794.4 237.1,767.1 237.9,828.1 238.6,752 239.3,707.2 240.1,826.5 240.8,765.6 241.5,790.9 242.3,766.2 243,770.7 243.7,792.4 244.5,765.8 245.2,711.8 245.9,773.5 246.7,740.2 247.4,804.4 248.1,812.9 248.9,763.7 249.6,719.7 250.3,755.5 251.1,776.7 251.8,740 252.5,805.8 253.3,742 254,734.5 254.7,779.2 255.5,787.3 256.2,755.2 256.9,789.6 257.7,773.4 258.4,706.2 259.1,776.3 259.9,761.9 260.6,804.2 261.3,739.4 262,787 262.8,792.7 263.5,717.3 264.2,722.2 265,795.5 265.7,832.7 266.4,729.9 267.2,794.9 267.9,740.2 268.6,829.3 269.4,743.6 270.1,788.2 270.8,738.2 271.6,782 272.3,795.1 273,784.2 273.8,737.2 274.5,768.6 275.2,747.8 276,698.4 276.7,808.1 277.4,723.1 278.2,764.2 278.9,797.1 279.6,812.1 280.4,756.4 281.1,731.7 281.8,778.2 282.6,708.5 283.3,793.1 284,755.8 284.8,815.4 285.5,755.6 286.2,724.8 287,782 287.7,842.2 288.4,750.2 289.2,756 289.9,749.9 290.6,748.6 291.4,804.3 292.1,742.2 292.8,733.7 293.5,805.2 294.3,762.6 295,780.8 295.7,762.6 296.5,738.4 297.2,787.7 297.9,772.9 298.7,759.3 299.4,802.7 300.1,791 300.9,736.7 301.6,801.2 302.3,737.9 303.1,747.8 303.8,813.4 304.5,775.5 305.3,708.3 306,799.9 306.7,756.5 307.5,759.3 308.2,734.6 308.9,761.5 309.7,774.8 310.4,717.5 311.1,704 311.9,730.3 312.6,759.4 313.3,776.2 314.1,780.7 314.8,745.8 315.5,736.3 316.3,709.5 317,729.3 317.7,799.1 318.5,729.2 319.2,792.2 319.9,762.1 320.7,742.8 321.4,692.1 322.1,655.4 322.9,725.7 323.6,765.6 324.3,733.5 325,728 325.8,766.5 326.5,688.5 327.2,740.3 328,731.7 328.7,722.3 329.4,740.1 330.2,721.4 330.9,775.5 331.6,768.5 332.4,789.2 333.1,738.2 333.8,723.2 334.6,744.6 335.3,682.5 336,760.5 336.8,740.5 337.5,777.5 338.2,757.8 339,724.5 339.7,719.5 340.4,760.8 341.2,760.6 341.9,798.8 342.6,767.6 343.4,714.6 344.1,733.4 344.8,741 345.6,751.2 346.3,746.6 347,775.4 347.8,734 348.5,734.2 349.2,731.8 350,770.1 350.7,821.4 351.4,712.2 352.2,775.6 352.9,787.3 353.6,732.1 354.4,762.5 355.1,711.9 355.8,716.6 356.5,719.2 357.3,792.5 358,709.1 358.7,747 359.5,759.1 360.2,744.8 360.9,800.9 361.7,740.3 362.4,775.2 363.1,777.3 363.9,795.6 364.6,707.5 365.3,760.5 366.1,700.1 366.8,760.9 367.5,799.7 368.3,780.1 369,711.9 369.7,749.7 370.5,758.3 371.2,728 371.9,720.9 372.7,691.6 373.4,704.2 374.1,748.5 374.9,784.6 375.6,739.4 376.3,741.7 377.1,780.8 377.8,778.5 378.5,749 379.3,748.6 380,747.7 380.7,765.5 381.5,747 382.2,756.8 382.9,706.2 383.7,713.6 384.4,807.7 385.1,767.3 385.9,799.6 386.6,747.4 387.3,734.4 388,790.9 388.8,783.8 389.5,761.9 390.2,734.8 391,728.3 391.7,775.9 392.4,739.2 393.2,757.2 393.9,748 394.6,689.8 395.4,691.7 396.1,789.1 396.8,713.8 397.6,712.1 398.3,771.2 399,706.9 399.8,698.4 400.5,786.2 401.2,757.2 402,702.9 402.7,735.1 403.4,707.7 404.2,725.7 404.9,715.5 405.6,778.9 406.4,687.2 407.1,685.6 407.8,746 408.6,730.2 409.3,780 410,708.9 410.8,725.5 411.5,732.4 412.2,691.5 413,760.2 413.7,726.8 414.4,784 415.2,738 415.9,734.8 416.6,715.6 417.4,745.8 418.1,725.7 418.8,719 419.5,761.6 420.3,785.6 421,675 421.7,689.9 422.5,791.1 423.2,712.1 423.9,759.6 424.7,719.3 425.4,720.6 426.1,747.6 426.9,761.6 427.6,762.8 428.3,761.9 429.1,750.9 429.8,741.9 430.5,750.5 431.3,714.1 432,690.4 432.7,750.6 433.5,731.7 434.2,719.4 434.9,725.3 435.7,712.6 436.4,706.5 437.1,720.5 437.9,767.9 438.6,703.2 439.3,703.3 440.1,749.1 440.8,722.3 441.5,711.8 442.3,740.4 443,697 443.7,671.9 444.5,765.8 445.2,761.7 445.9,705.6 446.7,707.2 447.4,730.8 448.1,679.2 448.9,745.9 449.6,696.6 450.3,747.8 451,680.1 451.8,676.5 452.5,749.8 453.2,750.3 454,710.6 454.7,744 455.4,736.4 456.2,711.9 456.9,780.1 457.6,726.3 458.4,735.9 459.1,740.6 459.8,686.2 460.6,753.1 461.3,694.9 462,742 462.8,735.2 463.5,706.4 464.2,724.6 465,698.7 465.7,678.1 466.4,745.6 467.2,738.8 467.9,763.4 468.6,753.6 469.4,634.1 470.1,690.4 470.8,765.6 471.6,771.5 472.3,705.2 473,705.5 473.8,706.8 474.5,737.5 475.2,730.6 476,705.4 476.7,715 477.4,800 478.2,727.9 478.9,742.4 479.6,728.8 480.3,621.5 481.1,714.3 481.8,726 482.5,697.1 483.3,719.3 484,719.7 484.7,700.2 485.5,652.2 486.2,762.8 486.9,699.3 487.7,762 488.4,702 489.1,757.9 489.9,737.3 490.6,727.7 491.3,694.3 492.1,692.2 492.8,749.9 493.5,720.9 494.3,733.8 495,766.8 495.7,720.2 496.5,715.7 497.2,659.6 497.9,709.6 498.7,756.2 499.4,736.4 500.1,681.1 500.9,654.7 501.6,766.1 502.3,777.2 503.1,647.1 503.8,701.4 504.5,740.6 505.3,701.7 506,803.1 506.7,718.5 507.5,701.4 508.2,688.8 508.9,744.7 509.7,695.3 510.4,736.9 511.1,708.7 511.8,733 512.6,730.1 513.3,761.7 514,700.9 514.8,701 515.5,723.5 516.2,711.7 517,745.7 517.7,719.7 518.4,716 519.2,622.4 519.9,765.3 520.6,663.6 521.4,674.1 522.1,714.6 522.8,646.5 523.6,697 524.3,702.2 525,707.8 525.8,654 526.5,674.5 527.2,728.6 528,756.2 528.7,723.6 529.4,729.1 530.2,718.9 530.9,669.9 531.6,728.1 532.4,707.1 533.1,704.9 533.8,674 534.6,784.7 535.3,730.4 536,709.9 536.8,673.9 537.5,721.1 538.2,762 539,695.8 539.7,721.3 540.4,734.9 541.2,724.3 541.9,698.4 542.6,732.8 543.3,787.3 544.1,692.6 544.8,654.4 545.5,680.8 546.3,743.2 547,710.6 547.7,715.4 548.5,667.5 549.2,683.6 549.9,728.3 550.7,697.2 551.4,687 552.1,657.1 552.9,689 553.6,676.1 554.3,687.1 555.1,649 555.8,678.7 556.5,735.8 557.3,667.3 558,682.8 558.7,717.5 559.5,710.2 560.2,707.6 560.9,676.4 561.7,698.2 562.4,696.5 563.1,656.8 563.9,681.8 564.6,689.9 565.3,671.8 566.1,745.4 566.8,699.7 567.5,647 568.3,695.4 569,730.7 569.7,734.2 570.5,738 571.2,728.3 571.9,734.2 572.7,746 573.4,702 574.1,666.2 574.8,714.5 575.6,642.8 576.3,685.9 577,675.8 577.8,700.2 578.5,671.9 579.2,734 580,671.1 580.7,692 581.4,682.4 582.2,740.8 582.9,731.4 583.6,679.7 584.4,732.8 585.1,689 585.8,740.6 586.6,672.8 587.3,724.9 588,701 588.8,668.7 589.5,709.4 590.2,695 591,691.3 591.7,716.8 592.4,739.8 593.2,765.1 593.9,693.9 594.6,731.9 595.4,685.4 596.1,694 596.8,668.2 597.6,714 598.3,709.9 599,667.9 599.8,694 600.5,679 601.2,681.6 602,746.3 602.7,664.5 603.4,671.1 604.2,729.2 604.9,692.3 605.6,703.5 606.3,692.9 607.1,678 607.8,650 608.5,656 609.3,744.6 610,665.5 610.7,651.7 611.5,684.2 612.2,649.1 612.9,633.6 613.7,670.5 614.4,696.2 615.1,653.5 615.9,697 616.6,676.5 617.3,718.9 618.1,627.6 618.8,715.2 619.5,642.6 620.3,678.9 621,731.7 621.7,678.7 622.5,748.1 623.2,669 623.9,660.3 624.7,711.3 625.4,685.9 626.1,624.5 626.9,718.7 627.6,733.3 628.3,635.6 629.1,624.7 629.8,689.7 630.5,655.9 631.3,642.6 632,715.8 632.7,709.4 633.5,646.8 634.2,641.6 634.9,666.1 635.7,728.7 636.4,615.5 637.1,699.9 637.8,695.3 638.6,667.7 639.3,623.6 640,650.9 640.8,687.4 641.5,681.3 642.2,689.3 643,667.5 643.7,761.8 644.4,700.4 645.2,675.9 645.9,727.5 646.6,677.3 647.4,702.3 648.1,635.8 648.8,644.9 649.6,706.7 650.3,680.3 651,693.7 651.8,677 652.5,673.3 653.2,706 654,726 654.7,657.6 655.4,667.3 656.2,707.3 656.9,633.6 657.6,703.2 658.4,665 659.1,661.5 659.8,683.2 660.6,653.1 661.3,703 662,673.2 662.8,682.1 663.5,709.3 664.2,681.5 665,722.3 665.7,691.3 666.4,702 667.2,694.2 667.9,689.8 668.6,682.5 669.3,659.6 670.1,650.3 670.8,710.8 671.5,714.6 672.3,707.5 673,690 673.7,681.4 674.5,696.5 675.2,716.1 675.9,693.4 676.7,685.6 677.4,655.7 678.1,694 678.9,688.7 679.6,717.2 680.3,687 681.1,695.9 681.8,659.1 682.5,728.4 683.3,688 684,666.8 684.7,663.1 685.5,594.6 686.2,664.2 686.9,711.6 687.7,682.3 688.4,734.7 689.1,676.3 689.9,705.7 690.6,636 691.3,699.6 692.1,680 692.8,698.4 693.5,607.6 694.3,683 695,607.6 695.7,659.9 696.5,656.4 697.2,654.9 697.9,660.4 698.6,726.3 699.4,686.2 700.1,634.9 700.8,656.2 701.6,720.4 702.3,677.8 703,606.6 703.8,620 704.5,678.3 705.2,645 706,685.7 706.7,736.6 707.4,708.2 708.2,629.5 708.9,686 709.6,679 710.4,678.5 711.1,597.7 711.8,626.7 712.6,591.9 713.3,677 714,661 714.8,712.8 715.5,631.6 716.2,703.7 717,661.2 717.7,700.3 718.4,685.5 719.2,676.1 719.9,693.2 720.6,690 721.4,690.9 722.1,646.2 722.8,708.4 723.6,651.5 724.3,617.7 725,688.6 725.8,697 726.5,670.9 727.2,634 728,655.8 728.7,682.2 729.4,663.4 730.1,689.3 730.9,630.4 731.6,658.1 732.3,679 733.1,690.3 733.8,691.3 734.5,643.3 735.3,610.3 736,687 736.7,656.9 737.5,742.4 738.2,689.2 738.9,665.9 739.7,679.2 740.4,698.3 741.1,683.6 741.9,654.8 742.6,660.3 743.3,714.8 744.1,735.3 744.8,686.6 745.5,640.3 746.3,745.1 747,664.1 747.7,674.8 748.5,621.2 749.2,670 749.9,641.2 750.7,651.1 751.4,725.7 752.1,628.8 752.9,645.4 753.6,634.3 754.3,531.1 755.1,728.8 755.8,604.9 756.5,660.4 757.3,658 758,659 758.7,677 759.5,678.1 760.2,639.3 760.9,706.6 761.6,635.4 762.4,683.6 763.1,689.4 763.8,668.4 764.6,601.8 765.3,678.4 766,645.6 766.8,679.9 767.5,621.7 768.2,637.2 769,597 769.7,658.7 770.4,635 771.2,658.1 771.9,614.6 772.6,671.6 773.4,641.6 774.1,662.1 774.8,664.4 775.6,644.2 776.3,660.6 777,664.5 777.8,646.3 778.5,593.3 779.2,625 780,632.4 780.7,655.1 781.4,695.2 782.2,642.3 782.9,623.7 783.6,612 784.4,682.1 785.1,656.3 785.8,704.7 786.6,671.3 787.3,632.6 788,661.9 788.8,628.2 789.5,660.5 790.2,628.5 791,698.4 791.7,662.6 792.4,753.8 793.1,659.2 793.9,702.7 794.6,616 795.3,624.8 796.1,647.3 796.8,592.1 797.5,682.8 798.3,587.2 799,619.1 799.7,655.3 800.5,610.5 801.2,682.8 801.9,672.1 802.7,659.6 803.4,665.9 804.1,678.5 804.9,612 805.6,646.9 806.3,644.1 807.1,653.6 807.8,708 808.5,652.3 809.3,709.2 810,656.8 810.7,685.9 811.5,590.8 812.2,623.2 812.9,660.2 813.7,611.7 814.4,694.5 815.1,643.4 815.9,635.5 816.6,633.1 817.3,603.7 818.1,631.8 818.8,638.4 819.5,699.8 820.3,686.7 821,638.7 821.7,636.7 822.5,684.2 823.2,569.3 823.9,596.2 824.6,643.1 825.4,645.5 826.1,657.9 826.8,683.8 827.6,645.1 828.3,622.7 829,679.5 829.8,638.8 830.5,645.1"/>
<path class="spine" d="M62.7 513.2V919.6H866.8"/><text class="tk" x="98.4" y="936.7" text-anchor="middle">2020-01</text><text class="tk" x="187" y="936.7" text-anchor="middle">2020-05</text><text class="tk" x="277.1" y="936.7" text-anchor="middle">2020-09</text><text class="tk" x="366.5" y="936.7" text-anchor="middle">2021-01</text><text class="tk" x="454.4" y="936.7" text-anchor="middle">2021-05</text><text class="tk" x="544.5" y="936.7" text-anchor="middle">2021-09</text><text class="tk" x="633.9" y="936.7" text-anchor="middle">2022-01</text><text class="tk" x="721.8" y="936.7" text-anchor="middle">2022-05</text><text class="tk" x="811.9" y="936.7" text-anchor="middle">2022-09</text><text class="tk" x="56.5" y="890.7" text-anchor="end">0</text><text class="tk" x="56.5" y="827" text-anchor="end">20</text><text class="tk" x="56.5" y="763.3" text-anchor="end">40</text><text class="tk" x="56.5" y="699.6" text-anchor="end">60</text><text class="tk" x="56.5" y="635.9" text-anchor="end">80</text><text class="tk" x="56.5" y="572.2" text-anchor="end">100</text><path class="tick" opacity="1.0" d="M454.7 919.1v-5M544.8 919.1v-5M634.2 919.1v-5M722.1 919.1v-5M62.1 756.2h5M62.1 692.5h5M62.1 628.8h5M62.1 565.1h5"/><path class="tick" opacity="0.85" d="M187.3 919.1v-5M366.8 919.1v-5"/><path class="tick" opacity="0.5" d="M98.7 919.1v-5M277.4 919.1v-5M812.2 919.1v-5M62.1 883.6h5M62.1 819.9h5"/><text class="ti" x="464.6" y="505.2" text-anchor="middle">Economic Indicator Over Time</text><text class="lb" x="464.6" y="958.8" text-anchor="middle">Date</text><text class="lb" transform="translate(16.2 716.9) rotate(-90)" text-anchor="middle">Economic Indicator</text>
<rect x="980.6" y="532" width="321.8" height="387.1" fill="#df2020"/>
<rect x="1382.9" y="538.1" width="321.8" height="381" fill="#107010"/>
<path class="grid gridb" opacity="0.5" d="M940.4 842.3H1746.4M940.4 765.5H1746.4M940.4 688.7H1746.4M940.4 611.8H1746.4"/><path class="grid gridb" opacity="0.16" d="M940.4 535H1746.4"/>
<path class="spine" d="M941 513.2V919.6H1744.6"/><text class="tk" x="1141.2" y="936.7" text-anchor="middle">Negative</text><text class="tk" x="1543.5" y="936.7" text-anchor="middle">Positive</text><text class="tk" x="934.8" y="926.2" text-anchor="end">0</text><text class="tk" x="934.8" y="849.4" text-anchor="end">100</text><text class="tk" x="934.8" y="772.6" text-anchor="end">200</text><text class="tk" x="934.8" y="695.8" text-anchor="end">300</text><text class="tk" x="934.8" y="618.9" text-anchor="end">400</text><text class="tk" x="934.8" y="542.1" text-anchor="end">500</text><path class="tick" opacity="1.0" d="M1141.5 919.1v-5M1543.8 919.1v-5M940.4 919.1h5M940.4 842.3h5M940.4 765.5h5M940.4 688.7h5M940.4 611.8h5M940.4 535h5"/><text class="ti" x="1342.7" y="505.2" text-anchor="middle">Market Sentiment Distribution</text><text class="lb" x="1342.7" y="958.8" text-anchor="middle">Sentiment</text><text class="lb" transform="translate(894.2 716.9) rotate(-90)" text-anchor="middle">Count</text>
<path class="grid" opacity="1.0" d="M87.8 1406V999.5M213 1406V999.5M338.1 1406V999.5M62.1 1359.2H868.6M62.1 1277.3H868.6M62.1 1195.4H868.6M62.1 1113.6H868.6M62.1 1031.7H868.6"/><path class="grid" opacity="0.5" d="M588.4 1406V999.5M713.6 1406V999.5"/><path class="grid" opacity="0.16" d="M463.3 1406V999.5M838.7 1406V999.5"/>
<g class="sc"><use href="#m0" x="165.8" y="1061.1"/><use href="#m1" x="146.6" y="1075.5"/><use href="#m0" x="171.8" y="1117.5"/><use href="#m1" x="199.8" y="1153.7"/><use href="#m0" x="145.5" y="1084.4"/><use href="#m0" x="146.1" y="1097.1"/><use href="#m0" x="203.5" y="1091.5"/><use href="#m0" x="178.7" y="1095.7"/><use href="#m0" x="140.6" y="1068.8"/><use href="#m0" x="172.9" y="1142.1"/><use href="#m0" x="142.1" y="1058.2"/><use href="#m0" x="142.6" y="1104.2"/><use href="#m0" x="165.4" y="1033.3"/><use href="#m0" x="98.6" y="1128.9"/><use href="#m0" x="105.1" y="1031.4"/><use href="#m0" x="142.1" y="1104"/><use href="#m0" x="128.6" y="1135.3"/><use href="#m0" x="170.8" y="1139.4"/><use href="#m0" x="133.2" y="1122.9"/><use href="#m0" x="118" y="1088.5"/><use href="#m0" x="208.7" y="1108.1"/><use href="#m0" x="156.4" y="1139.3"/><use href="#m0" x="166.2" y="1119.4"/><use href="#m0" x="120.1" y="1018.7"/><use href="#m0" x="148.3" y="1043"/><use href="#m0" x="169.4" y="1101.4"/><use href="#m0" x="130.6" y="1107.6"/><use href="#m0" x="179" y="1116.9"/><use href="#m0" x="149.1" y="1088.8"/><use href="#m0" x="159.3" y="1158.5"/><use href="#m0" x="150.3" y="1124.8"/><use href="#m0" x="227.7" y="1202.8"/><use href="#m0" x="169.9" y="1103.1"/><use href="#m0" x="137.9" y="1084.5"/><use href="#m1" x="197.3" y="1146.4"/><use href="#m0" x="134" y="1045.6"/><use href="#m1" x="179.4" y="1172.1"/><use href="#m0" x="112.2" y="1164.2"/><use href="#m0" x="132.6" y="1100.4"/><use href="#m0" x="180.9" y="1079.4"/><use href="#m0" x="198.5" y="1057.9"/><use href="#m0" x="181.4" y="1141.2"/><use href="#m0" x="173" y="1076"/><use href="#m0" x="167.8" y="1120.4"/><use href="#m1" x="131.6" y="1116.4"/><use href="#m0" x="156" y="1079.6"/><use href="#m0" x="164.7" y="1091.3"/><use href="#m0" x="212.8" y="1195.2"/><use href="#m0" x="191.1" y="1064.5"/><use href="#m0" x="125.8" y="1051.4"/><use href="#m0" x="191.8" y="1150.7"/><use href="#m1" x="170.2" y="1103.3"/><use href="#m0" x="161.7" y="1097"/><use href="#m0" x="202.6" y="1117.3"/><use href="#m0" x="216.4" y="1154.1"/><use href="#m0" x="213.9" y="1158.4"/><use href="#m0" x="159.1" y="1117.6"/><use href="#m0" x="176.3" y="1073.1"/><use href="#m0" x="197" y="1104.2"/><use href="#m0" x="217.8" y="1147.1"/><use href="#m0" x="172.9" y="1088.6"/><use href="#m0" x="182.7" y="1239.4"/><use href="#m0" x="154.5" y="1068.3"/><use href="#m0" x="152.3" y="1186"/><use href="#m0" x="215.8" y="1146.3"/><use href="#m0" x="233.5" y="1181.9"/><use href="#m0" x="189.4" y="1177.5"/><use href="#m0" x="223.7" y="1085.9"/><use href="#m0" x="204.2" y="1147.5"/><use href="#m0" x="173.3" y="1106.1"/><use href="#m0" x="205.5" y="1130.6"/><use href="#m0" x="242.9" y="1119"/><use href="#m0" x="194.3" y="1122.6"/><use href="#m0" x="245" y="1191.6"/><use href="#m0" x="114.7" y="1064.2"/><use href="#m1" x="223" y="1153.5"/><use href="#m0" x="200.6" y="1191.2"/><use href="#m0" x="189.2" y="1142"/><use href="#m0" x="202" y="1066.4"/><use href="#m0" x="137.6" y="1076.1"/><use href="#m1" x="193.5" y="1139.9"/><use href="#m0" x="212.2" y="1144.8"/><use href="#m1" x="247.9" y="1153"/><use href="#m1" x="186.1" y="1038.6"/><use href="#m1" x="177.6" y="1105.8"/><use href="#m0" x="187.9" y="1106.5"/><use href="#m0" x="232.8" y="1093.7"/><use href="#m0" x="215.1" y="1121.4"/><use href="#m0" x="188.9" y="1135"/><use href="#m0" x="222.1" y="1141.1"/><use href="#m0" x="209.7" y="1132.7"/><use href="#m0" x="237.6" y="1138.6"/><use href="#m0" x="186" y="1093.8"/><use href="#m0" x="198.3" y="1124.7"/><use href="#m0" x="196.9" y="1096.5"/><use href="#m0" x="164" y="1121.2"/><use href="#m0" x="219.7" y="1129.2"/><use href="#m0" x="219.2" y="1214.1"/><use href="#m0" x="211.9" y="1092.9"/><use href="#m0" x="205" y="1114.4"/><use href="#m1" x="168.7" y="1078.2"/><use href="#m0" x="200.4" y="1245.9"/><use href="#m0" x="203.5" y="1042.7"/><use href="#m0" x="189.7" y="1130.3"/><use href="#m0" x="210.4" y="1084.6"/><use href="#m0" x="228.7" y="1177.4"/><use href="#m0" x="275.7" y="1122"/><use href="#m0" x="222.8" y="1176.4"/><use href="#m0" x="226" y="1159.6"/><use href="#m0" x="216.3" y="1053.2"/><use href="#m0" x="159.2" y="1124.4"/><use href="#m1" x="219" y="1123.3"/><use href="#m1" x="222.3" y="1097.5"/><use href="#m0" x="298.2" y="1132.7"/><use href="#m0" x="215.7" y="1125.2"/><use href="#m0" x="231.8" y="1120.6"/><use href="#m0" x="221.9" y="1034.6"/><use href="#m0" x="187" y="1126.2"/><use href="#m1" x="260" y="1134.7"/><use href="#m0" x="248.4" y="1096.9"/><use href="#m0" x="250.2" y="1095.2"/><use href="#m0" x="197.6" y="1078.1"/><use href="#m1" x="270.6" y="1119.6"/><use href="#m0" x="183.5" y="1169.7"/><use href="#m0" x="246.3" y="1072.5"/><use href="#m0" x="297.1" y="1199.6"/><use href="#m0" x="198.2" y="1114.4"/><use href="#m0" x="212.1" y="1161.3"/><use href="#m1" x="233.6" y="1138.7"/><use href="#m0" x="215.4" y="1117.8"/><use href="#m0" x="183.2" y="1109.7"/><use href="#m0" x="234.5" y="1119"/><use href="#m0" x="199.8" y="1061.1"/><use href="#m0" x="248.4" y="1121.4"/><use href="#m0" x="205.5" y="1138.7"/><use href="#m0" x="283.4" y="1109.6"/><use href="#m0" x="211" y="1081.5"/><use href="#m0" x="226" y="1184.3"/><use href="#m0" x="262.2" y="1119.1"/><use href="#m1" x="198.9" y="1098.3"/><use href="#m0" x="245.1" y="1151.3"/><use href="#m0" x="279.5" y="1091.8"/><use href="#m0" x="189" y="1130.5"/><use href="#m0" x="245.7" y="1134.1"/><use href="#m0" x="248.6" y="1147.1"/><use href="#m0" x="265.6" y="1143.8"/><use href="#m0" x="203.1" y="1173"/><use href="#m0" x="201.1" y="1186.5"/><use href="#m0" x="259.3" y="1077.5"/><use href="#m0" x="252.9" y="1175.8"/><use href="#m1" x="252.1" y="1181.5"/><use href="#m0" x="255.7" y="1230"/><use href="#m0" x="224.2" y="1159.8"/><use href="#m1" x="253.4" y="1195.4"/><use href="#m1" x="255.9" y="1074.7"/><use href="#m0" x="225" y="1092.5"/><use href="#m0" x="306.4" y="1183.3"/><use href="#m0" x="263.5" y="1051.7"/><use href="#m0" x="212" y="1090.2"/><use href="#m0" x="270.4" y="1159"/><use href="#m0" x="220" y="1234.8"/><use href="#m0" x="275.8" y="1053.3"/><use href="#m0" x="288" y="1207.2"/><use href="#m0" x="226.7" y="1201.6"/><use href="#m0" x="283.2" y="1107.2"/><use href="#m0" x="266.6" y="1044.8"/><use href="#m0" x="280" y="1091.5"/><use href="#m0" x="314.3" y="1134.1"/><use href="#m1" x="247.9" y="1115.5"/><use href="#m0" x="232.6" y="1100.9"/><use href="#m0" x="229" y="1103.8"/><use href="#m0" x="231.9" y="1124.1"/><use href="#m0" x="255.6" y="1137.6"/><use href="#m1" x="269.3" y="1148"/><use href="#m0" x="268" y="1175.9"/><use href="#m0" x="285.8" y="1161.2"/><use href="#m0" x="261" y="1212.5"/><use href="#m0" x="306.7" y="1159.2"/><use href="#m0" x="253.5" y="1181.7"/><use href="#m1" x="347.5" y="1211.1"/><use href="#m0" x="282.6" y="1141.5"/><use href="#m0" x="236.9" y="1079.9"/><use href="#m0" x="230.8" y="1097.7"/><use href="#m1" x="280" y="1212.5"/><use href="#m0" x="258.6" y="1183.1"/><use href="#m0" x="288.5" y="1111.9"/><use href="#m0" x="281.6" y="1188.9"/><use href="#m1" x="265.2" y="1153.5"/><use href="#m0" x="241.6" y="1115.6"/><use href="#m0" x="221.3" y="1172.5"/><use href="#m0" x="255.3" y="1137.4"/><use href="#m0" x="296.7" y="1207.2"/><use href="#m0" x="277.3" y="1172.1"/><use href="#m0" x="232.2" y="1122.6"/><use href="#m0" x="277.2" y="1212.7"/><use href="#m0" x="284.5" y="1131.4"/><use href="#m0" x="245.4" y="1140"/><use href="#m0" x="278.5" y="1125.2"/><use href="#m0" x="276.1" y="1138"/><use href="#m0" x="239.2" y="1081.7"/><use href="#m0" x="286.8" y="1144.9"/><use href="#m0" x="293.8" y="1169.4"/><use href="#m0" x="310.7" y="1151.2"/><use href="#m0" x="310.4" y="1133.9"/><use href="#m0" x="235" y="1134.4"/><use href="#m0" x="249.4" y="1138.5"/><use href="#m0" x="295.5" y="1181"/><use href="#m0" x="296" y="1179.5"/><use href="#m0" x="296.7" y="1210"/><use href="#m0" x="401.8" y="1108.4"/><use href="#m0" x="299.7" y="1204.3"/><use href="#m0" x="318" y="1186.5"/><use href="#m0" x="312.9" y="1186.2"/><use href="#m0" x="304.1" y="1117.9"/><use href="#m1" x="274.5" y="1158.8"/><use href="#m1" x="308.7" y="1104.6"/><use href="#m0" x="261.4" y="1170.9"/><use href="#m0" x="278.8" y="1136.5"/><use href="#m0" x="271.7" y="1180.2"/><use href="#m0" x="290" y="1063"/><use href="#m0" x="360.5" y="1217.9"/><use href="#m0" x="230.3" y="1122.5"/><use href="#m0" x="310.8" y="1130.3"/><use href="#m0" x="239.5" y="1120.7"/><use href="#m0" x="275.8" y="1154.7"/><use href="#m0" x="325.3" y="1165.4"/><use href="#m0" x="293.9" y="1150"/><use href="#m0" x="258.8" y="1148.7"/><use href="#m0" x="270.7" y="1106.3"/><use href="#m0" x="315" y="1066.9"/><use href="#m0" x="271.5" y="1168.8"/><use href="#m1" x="301.8" y="1210"/><use href="#m0" x="297.1" y="1156.3"/><use href="#m1" x="275.9" y="1041.5"/><use href="#m1" x="364" y="1203.1"/><use href="#m1" x="317.3" y="1090.9"/><use href="#m0" x="234.8" y="1067.7"/><use href="#m0" x="304.6" y="1177.3"/><use href="#m1" x="278.7" y="1124.6"/><use href="#m0" x="326.7" y="1093.8"/><use href="#m0" x="275.8" y="1162.6"/><use href="#m0" x="297.7" y="1161.2"/><use href="#m0" x="317.7" y="1181.9"/><use href="#m0" x="329.6" y="1202.7"/><use href="#m0" x="265.6" y="1171"/><use href="#m0" x="293.3" y="1201.8"/><use href="#m1" x="289.5" y="1149.3"/><use href="#m0" x="284.6" y="1180.9"/><use href="#m1" x="360.9" y="1159.8"/><use href="#m0" x="318.9" y="1222.1"/><use href="#m0" x="267.5" y="1131.4"/><use href="#m0" x="336.2" y="1128.8"/><use href="#m1" x="374.5" y="1254.6"/><use href="#m0" x="341.1" y="1148.9"/><use href="#m0" x="261.9" y="1093.2"/><use href="#m0" x="294.9" y="1201.6"/><use href="#m1" x="350.3" y="1098.1"/><use href="#m1" x="289.1" y="1133.4"/><use href="#m0" x="325.8" y="1189.1"/><use href="#m0" x="336.8" y="1165.3"/><use href="#m0" x="284.2" y="1126.4"/><use href="#m0" x="311.9" y="1153.5"/><use href="#m0" x="213" y="1108.6"/><use href="#m0" x="283" y="1186.7"/><use href="#m0" x="307.8" y="1148.5"/><use href="#m1" x="277.3" y="1205.4"/><use href="#m0" x="368" y="1175.8"/><use href="#m1" x="272.8" y="1183.3"/><use href="#m0" x="304.4" y="1184.7"/><use href="#m0" x="322.9" y="1108.8"/><use href="#m0" x="364.5" y="1125.7"/><use href="#m0" x="275.1" y="1122"/><use href="#m0" x="357.1" y="1213.1"/><use href="#m0" x="321.6" y="1172.1"/><use href="#m0" x="291.2" y="1101.5"/><use href="#m0" x="337" y="1157.3"/><use href="#m1" x="329.4" y="1066.2"/><use href="#m0" x="305" y="1138.7"/><use href="#m0" x="326.6" y="1152.5"/><use href="#m0" x="313" y="1169.5"/><use href="#m0" x="329.2" y="1155.6"/><use href="#m1" x="347" y="1172"/><use href="#m0" x="376.6" y="1144.5"/><use href="#m0" x="288.8" y="1111.4"/><use href="#m0" x="394.9" y="1210.5"/><use href="#m0" x="267.7" y="1199.5"/><use href="#m1" x="324.7" y="1235.1"/><use href="#m0" x="348.5" y="1145.3"/><use href="#m1" x="339.5" y="1208.9"/><use href="#m0" x="311.8" y="1244.7"/><use href="#m0" x="325.4" y="1144.2"/><use href="#m1" x="317.2" y="1055.9"/><use href="#m0" x="314.8" y="1157.6"/><use href="#m0" x="360.4" y="1134.9"/><use href="#m0" x="345.6" y="1162"/><use href="#m0" x="313.4" y="1161"/><use href="#m0" x="363.9" y="1132.5"/><use href="#m0" x="346" y="1177.4"/><use href="#m0" x="362.4" y="1158.8"/><use href="#m0" x="357.3" y="1155.3"/><use href="#m0" x="312.3" y="1184"/><use href="#m0" x="321.3" y="1118.4"/><use href="#m0" x="362.9" y="1177.1"/><use href="#m0" x="359.2" y="1199.9"/><use href="#m1" x="340.1" y="1142"/><use href="#m0" x="345" y="1202"/><use href="#m1" x="381.9" y="1173.7"/><use href="#m0" x="324.1" y="1160.1"/><use href="#m0" x="360.3" y="1124.8"/><use href="#m0" x="337.5" y="1143.8"/><use href="#m0" x="337.7" y="1164.3"/><use href="#m0" x="379.5" y="1140.8"/><use href="#m0" x="371.6" y="1115.3"/><use href="#m0" x="371.8" y="1149.4"/><use href="#m1" x="387.8" y="1176"/><use href="#m0" x="348.3" y="1219.8"/><use href="#m0" x="369.6" y="1215.3"/><use href="#m0" x="339.2" y="1176.2"/><use href="#m0" x="359.6" y="1194"/><use href="#m0" x="346" y="1173.1"/><use href="#m0" x="353.8" y="1165.2"/><use href="#m1" x="370" y="1150.1"/><use href="#m1" x="326.4" y="1163.2"/><use href="#m1" x="418.1" y="1164.4"/><use href="#m0" x="321.8" y="1156.5"/><use href="#m1" x="315.9" y="1238.5"/><use href="#m0" x="390.7" y="1215.6"/><use href="#m0" x="379.9" y="1180.2"/><use href="#m0" x="375.3" y="1222.7"/><use href="#m0" x="376" y="1148.8"/><use href="#m0" x="356.6" y="1105.6"/><use href="#m0" x="329.6" y="1111.3"/><use href="#m0" x="360.6" y="1178"/><use href="#m0" x="337.7" y="1102.3"/><use href="#m1" x="390" y="1170.9"/><use href="#m0" x="355.5" y="1181.8"/><use href="#m0" x="334.9" y="1187.7"/><use href="#m0" x="351.3" y="1179.3"/><use href="#m0" x="374.9" y="1188.9"/><use href="#m0" x="345" y="1158.2"/><use href="#m0" x="337.5" y="1156.7"/><use href="#m1" x="371.5" y="1172"/><use href="#m1" x="372.2" y="1154.4"/><use href="#m0" x="349.3" y="1117.6"/><use href="#m0" x="351" y="1127.9"/><use href="#m0" x="373.7" y="1233.5"/><use href="#m0" x="321.7" y="1263.7"/><use href="#m1" x="323.6" y="1121.4"/><use href="#m0" x="345.8" y="1221.4"/><use href="#m0" x="362.2" y="1178.9"/><use href="#m1" x="379.3" y="1222.1"/><use href="#m0" x="416.3" y="1257.6"/><use href="#m0" x="397.6" y="1156.8"/><use href="#m0" x="366.4" y="1139.7"/><use href="#m0" x="371.4" y="1195.7"/><use href="#m1" x="341.3" y="1270.3"/><use href="#m1" x="372.7" y="1194.8"/><use href="#m0" x="364.9" y="1154.4"/><use href="#m0" x="384.6" y="1236.1"/><use href="#m0" x="349.3" y="1158.8"/><use href="#m0" x="392" y="1178.2"/><use href="#m0" x="424.4" y="1162.3"/><use href="#m0" x="373.6" y="1167.8"/><use href="#m0" x="390.2" y="1216.9"/><use href="#m0" x="399.9" y="1130.6"/><use href="#m0" x="366.4" y="1177.3"/><use href="#m0" x="386.6" y="1177.2"/><use href="#m0" x="380.6" y="1212.7"/><use href="#m0" x="383.9" y="1193.5"/><use href="#m1" x="357.3" y="1204.6"/><use href="#m0" x="382.8" y="1182.2"/><use href="#m0" x="398.3" y="1109.1"/><use href="#m1" x="428.7" y="1243.3"/><use href="#m1" x="414" y="1249.3"/><use href="#m1" x="451.9" y="1133"/><use href="#m1" x="361.2" y="1178"/><use href="#m0" x="413.1" y="1210.4"/><use href="#m0" x="392.2" y="1135"/><use href="#m0" x="455.6" y="1218.9"/><use href="#m0" x="362.4" y="1095"/><use href="#m0" x="362.1" y="1141.9"/><use href="#m0" x="370.2" y="1191.8"/><use href="#m0" x="323.1" y="1071.2"/><use href="#m0" x="373.8" y="1197.5"/><use href="#m0" x="367.1" y="1140.6"/><use href="#m0" x="396.2" y="1166.4"/><use href="#m1" x="402.8" y="1127"/><use href="#m1" x="451.4" y="1129.1"/><use href="#m1" x="423.1" y="1184.3"/><use href="#m1" x="375.9" y="1204.2"/><use href="#m0" x="366.5" y="1152"/><use href="#m1" x="410.6" y="1210.1"/><use href="#m0" x="354.5" y="1085.3"/><use href="#m0" x="453.8" y="1188.1"/><use href="#m0" x="434" y="1203.5"/><use href="#m0" x="383" y="1167.6"/><use href="#m0" x="344.7" y="1220.3"/><use href="#m1" x="441.3" y="1230.2"/><use href="#m1" x="396" y="1129.4"/><use href="#m0" x="439" y="1216.7"/><use href="#m0" x="351" y="1209.6"/><use href="#m1" x="382.7" y="1153.1"/><use href="#m0" x="402.3" y="1131.7"/><use href="#m0" x="404.2" y="1151.3"/><use href="#m0" x="389.3" y="1136"/><use href="#m0" x="423.5" y="1216.7"/><use href="#m0" x="371.2" y="1230.3"/><use href="#m0" x="400.8" y="1118.4"/><use href="#m0" x="409.6" y="1195.3"/><use href="#m1" x="422.6" y="1195.8"/><use href="#m0" x="429.4" y="1132.9"/><use href="#m0" x="372.6" y="1149.7"/><use href="#m0" x="360.4" y="1150.6"/><use href="#m1" x="449" y="1103.8"/><use href="#m0" x="420" y="1211.2"/><use href="#m0" x="386.8" y="1138.2"/><use href="#m1" x="459.4" y="1192.8"/><use href="#m0" x="415.1" y="1172.6"/><use href="#m0" x="449" y="1129.9"/><use href="#m1" x="414.9" y="1162.7"/><use href="#m0" x="477.9" y="1177.9"/><use href="#m0" x="468.9" y="1153.7"/><use href="#m0" x="406.8" y="1196.3"/><use href="#m1" x="445.7" y="1225.9"/><use href="#m0" x="436.1" y="1231.8"/><use href="#m1" x="459.3" y="1275.6"/><use href="#m0" x="386.9" y="1092"/><use href="#m0" x="439.2" y="1235"/><use href="#m1" x="451.5" y="1202.1"/><use href="#m0" x="364" y="1181.5"/><use href="#m0" x="382.6" y="1162.5"/><use href="#m1" x="356.5" y="1134.8"/><use href="#m0" x="412.5" y="1147.6"/><use href="#m0" x="444" y="1215"/><use href="#m1" x="469.2" y="1204.5"/><use href="#m1" x="425.1" y="1174.6"/><use href="#m0" x="474.4" y="1209.3"/><use href="#m0" x="380.8" y="1108.8"/><use href="#m1" x="371.4" y="1152"/><use href="#m0" x="423.5" y="1155.7"/><use href="#m1" x="437.9" y="1162.4"/><use href="#m0" x="425.5" y="1138.2"/><use href="#m0" x="362.5" y="1162.4"/><use href="#m1" x="425" y="1239.2"/><use href="#m0" x="387.6" y="1160"/><use href="#m0" x="450" y="1219.4"/><use href="#m1" x="441.1" y="1212"/><use href="#m1" x="400.9" y="1155.8"/><use href="#m0" x="414.8" y="1132.8"/><use href="#m0" x="398.4" y="1178.3"/><use href="#m0" x="430.2" y="1174.9"/><use href="#m1" x="462.7" y="1126.3"/><use href="#m0" x="402.6" y="1170.4"/><use href="#m1" x="449.8" y="1086.1"/><use href="#m1" x="418.1" y="1161.2"/><use href="#m0" x="410.5" y="1254.4"/><use href="#m0" x="432.6" y="1157.3"/><use href="#m0" x="404.2" y="1165.1"/><use href="#m0" x="419.9" y="1132"/><use href="#m1" x="400.3" y="1152.1"/><use href="#m1" x="499.9" y="1211.4"/><use href="#m0" x="440.2" y="1240.2"/><use href="#m1" x="417.8" y="1192.8"/><use href="#m0" x="447" y="1226.7"/><use href="#m1" x="437.4" y="1213.2"/><use href="#m0" x="434.7" y="1164.6"/><use href="#m1" x="461.4" y="1127.3"/><use href="#m0" x="466.5" y="1180.9"/><use href="#m1" x="426.8" y="1235.6"/><use href="#m1" x="426.1" y="1168.2"/><use href="#m0" x="436.1" y="1140.1"/><use href="#m0" x="373.3" y="1197.6"/><use href="#m0" x="398.5" y="1184.7"/><use href="#m0" x="489.3" y="1202.4"/><use href="#m1" x="498.7" y="1237.6"/><use href="#m0" x="440" y="1163.6"/><use href="#m1" x="466.5" y="1202"/><use href="#m0" x="458.8" y="1177.8"/><use href="#m1" x="546" y="1254.2"/><use href="#m0" x="485.4" y="1219.9"/><use href="#m0" x="447" y="1162.3"/><use href="#m0" x="421.7" y="1200.6"/><use href="#m0" x="402" y="1109.4"/><use href="#m1" x="459.2" y="1211.5"/><use href="#m1" x="429.8" y="1178.2"/><use href="#m0" x="409.6" y="1143.9"/><use href="#m0" x="434.5" y="1246.7"/><use href="#m1" x="421.5" y="1257.3"/><use href="#m1" x="508.8" y="1270.5"/><use href="#m1" x="484.2" y="1150"/><use href="#m1" x="457" y="1217.1"/><use href="#m0" x="504.2" y="1102.1"/><use href="#m0" x="460.9" y="1218.6"/><use href="#m0" x="432.2" y="1180.5"/><use href="#m1" x="507.4" y="1144.6"/><use href="#m1" x="477.2" y="1117.7"/><use href="#m0" x="428.5" y="1102.7"/><use href="#m1" x="455.7" y="1144.7"/><use href="#m0" x="434.8" y="1146.8"/><use href="#m1" x="419.6" y="1160.5"/><use href="#m0" x="492.5" y="1171.9"/><use href="#m1" x="523.9" y="1234.6"/><use href="#m1" x="421" y="1218.6"/><use href="#m1" x="483" y="1201.5"/><use href="#m0" x="445.6" y="1198.5"/><use href="#m1" x="451.4" y="1211.6"/><use href="#m1" x="448.7" y="1163.9"/><use href="#m1" x="440.8" y="1151.2"/><use href="#m1" x="470" y="1194.3"/><use href="#m1" x="443.1" y="1130.4"/><use href="#m1" x="478.2" y="1246.8"/><use href="#m0" x="468.8" y="1205.5"/><use href="#m0" x="463.5" y="1225.6"/><use href="#m0" x="443.2" y="1267.3"/><use href="#m1" x="454.2" y="1197.2"/><use href="#m1" x="496.5" y="1209.9"/><use href="#m1" x="489.2" y="1141"/><use href="#m0" x="443.6" y="1165.2"/><use href="#m0" x="477.9" y="1241.9"/><use href="#m0" x="498.9" y="1129.6"/><use href="#m1" x="423.8" y="1135.9"/><use href="#m1" x="493.6" y="1180.3"/><use href="#m1" x="456.5" y="1203.7"/><use href="#m0" x="495.7" y="1243.9"/><use href="#m0" x="454.6" y="1209.1"/><use href="#m1" x="422.7" y="1141"/><use href="#m0" x="428.9" y="1110"/><use href="#m0" x="481.9" y="1137.9"/><use href="#m1" x="489.2" y="1223"/><use href="#m0" x="453.4" y="1239.4"/><use href="#m1" x="502.3" y="1200.6"/><use href="#m1" x="430.9" y="1260.1"/><use href="#m1" x="481.5" y="1187.7"/><use href="#m0" x="446.3" y="1197.8"/><use href="#m0" x="464.4" y="1215.5"/><use href="#m0" x="486.9" y="1267.6"/><use href="#m0" x="459.1" y="1174.1"/><use href="#m1" x="474.6" y="1220.9"/><use href="#m1" x="518.8" y="1258.6"/><use href="#m1" x="469.9" y="1315.5"/><use href="#m0" x="514.7" y="1210.8"/><use href="#m1" x="453.8" y="1121.1"/><use href="#m0" x="506.4" y="1139.4"/><use href="#m1" x="535.5" y="1233.8"/><use href="#m1" x="413.7" y="1207.9"/><use href="#m0" x="466.7" y="1177.9"/><use href="#m0" x="510.4" y="1249.4"/><use href="#m0" x="486.6" y="1189.9"/><use href="#m0" x="505.2" y="1175.8"/><use href="#m0" x="475.3" y="1149.1"/><use href="#m1" x="497.5" y="1209.2"/><use href="#m0" x="490.6" y="1211.6"/><use href="#m1" x="532.6" y="1250.3"/><use href="#m0" x="504.6" y="1240.8"/><use href="#m1" x="507.9" y="1217.1"/><use href="#m0" x="485.1" y="1186.8"/><use href="#m0" x="483.3" y="1164"/><use href="#m1" x="485.7" y="1234.9"/><use href="#m1" x="512.2" y="1147.9"/><use href="#m0" x="487.3" y="1213.5"/><use href="#m0" x="510.1" y="1209.3"/><use href="#m1" x="566.6" y="1253.8"/><use href="#m1" x="529.6" y="1312.8"/><use href="#m0" x="492.8" y="1167.7"/><use href="#m1" x="541.2" y="1186.4"/><use href="#m1" x="491.4" y="1215.1"/><use href="#m0" x="441.1" y="1187.6"/><use href="#m1" x="473.9" y="1177.8"/><use href="#m0" x="447.6" y="1256"/><use href="#m1" x="495.7" y="1226.3"/><use href="#m1" x="507.9" y="1175.3"/><use href="#m1" x="560.4" y="1272.9"/><use href="#m1" x="518.8" y="1198.7"/><use href="#m1" x="502.4" y="1261.9"/><use href="#m1" x="535.8" y="1196.1"/><use href="#m1" x="441.3" y="1191.9"/><use href="#m1" x="518.5" y="1276.7"/><use href="#m1" x="535.8" y="1167.5"/><use href="#m1" x="466.1" y="1227"/><use href="#m1" x="548.8" y="1251.7"/><use href="#m1" x="524.2" y="1203.9"/><use href="#m1" x="501.2" y="1159.1"/><use href="#m0" x="534.6" y="1256.4"/><use href="#m1" x="586.5" y="1225.9"/><use href="#m0" x="521.8" y="1193.9"/><use href="#m1" x="524.5" y="1183.8"/><use href="#m1" x="503" y="1199.3"/><use href="#m1" x="491.4" y="1218.6"/><use href="#m1" x="544.6" y="1251.3"/><use href="#m1" x="492.5" y="1200.3"/><use href="#m0" x="522.1" y="1255.5"/><use href="#m1" x="505.5" y="1326.8"/><use href="#m0" x="536.1" y="1197.4"/><use href="#m0" x="532.2" y="1177.2"/><use href="#m1" x="554.8" y="1316.9"/><use href="#m1" x="507" y="1249"/><use href="#m1" x="515.2" y="1184.4"/><use href="#m1" x="493.6" y="1119.9"/><use href="#m1" x="511" y="1207.8"/><use href="#m1" x="537.3" y="1245.3"/><use href="#m1" x="549.8" y="1226.3"/><use href="#m1" x="497.9" y="1148.9"/><use href="#m0" x="554.6" y="1246.5"/><use href="#m1" x="570.4" y="1256.9"/><use href="#m0" x="541.6" y="1236.4"/><use href="#m1" x="588" y="1267.8"/><use href="#m1" x="505.7" y="1202.2"/><use href="#m1" x="491.6" y="1137.1"/><use href="#m1" x="475.5" y="1186.1"/><use href="#m1" x="578.6" y="1236.7"/><use href="#m1" x="552.9" y="1231.6"/><use href="#m0" x="531.3" y="1278"/><use href="#m1" x="542.4" y="1180.7"/><use href="#m1" x="499.1" y="1208.7"/><use href="#m1" x="611.4" y="1242.3"/><use href="#m1" x="539.6" y="1085.4"/><use href="#m1" x="539.6" y="1203.9"/><use href="#m1" x="559.5" y="1252.1"/><use href="#m1" x="552.4" y="1237"/><use href="#m0" x="545" y="1170.6"/><use href="#m1" x="513.9" y="1204.8"/><use href="#m0" x="554" y="1278.8"/><use href="#m1" x="598.8" y="1194"/><use href="#m1" x="582.6" y="1254.8"/><use href="#m1" x="591" y="1152.9"/><use href="#m1" x="525.8" y="1168.3"/><use href="#m1" x="511.4" y="1227.1"/><use href="#m0" x="539.1" y="1163.6"/><use href="#m0" x="545.4" y="1214.9"/><use href="#m1" x="578.5" y="1191.4"/><use href="#m1" x="492" y="1183.8"/><use href="#m0" x="593.4" y="1264.9"/><use href="#m1" x="541.2" y="1242.9"/><use href="#m1" x="533.4" y="1172.4"/><use href="#m1" x="515.8" y="1223.6"/><use href="#m0" x="496.3" y="1221.3"/><use href="#m0" x="574.4" y="1264.4"/><use href="#m1" x="551.6" y="1201.9"/><use href="#m0" x="509.6" y="1123.9"/><use href="#m0" x="510" y="1252.1"/><use href="#m1" x="540.7" y="1215.4"/><use href="#m1" x="604" y="1175.2"/><use href="#m1" x="544.3" y="1220.6"/><use href="#m0" x="506" y="1188.8"/><use href="#m1" x="546" y="1261.3"/><use href="#m0" x="545.8" y="1200.2"/><use href="#m1" x="470.6" y="1205.7"/><use href="#m0" x="553.9" y="1179.5"/><use href="#m1" x="549" y="1170"/><use href="#m1" x="578.6" y="1120.3"/><use href="#m0" x="615.3" y="1212.2"/><use href="#m0" x="593.3" y="1216.9"/><use href="#m0" x="550.3" y="1211"/><use href="#m1" x="524.7" y="1226.7"/><use href="#m1" x="640.5" y="1228.7"/><use href="#m1" x="562.4" y="1234.2"/><use href="#m1" x="561.6" y="1215"/><use href="#m1" x="561.1" y="1167.8"/><use href="#m1" x="568.7" y="1265"/><use href="#m1" x="558.6" y="1174.4"/><use href="#m0" x="545.8" y="1163.8"/><use href="#m1" x="547.2" y="1223"/><use href="#m1" x="563.9" y="1309.4"/><use href="#m1" x="548.6" y="1243.4"/><use href="#m1" x="543.9" y="1164.2"/><use href="#m1" x="570.2" y="1225.1"/><use href="#m0" x="559.5" y="1262.3"/><use href="#m0" x="615.1" y="1256.6"/><use href="#m0" x="485.8" y="1167.6"/><use href="#m0" x="603.5" y="1210.5"/><use href="#m1" x="609" y="1244.1"/><use href="#m1" x="505.7" y="1222.3"/><use href="#m1" x="560.5" y="1237.7"/><use href="#m1" x="560.2" y="1259.3"/><use href="#m1" x="528.4" y="1147.1"/><use href="#m1" x="548.8" y="1231.7"/><use href="#m1" x="539" y="1166.2"/><use href="#m1" x="629.2" y="1177.3"/><use href="#m1" x="604.3" y="1192.2"/><use href="#m1" x="615.4" y="1253.6"/><use href="#m1" x="598.8" y="1215.1"/><use href="#m1" x="541.5" y="1217.6"/><use href="#m1" x="561.1" y="1258.8"/><use href="#m0" x="593.4" y="1217"/><use href="#m1" x="540.5" y="1264.6"/><use href="#m1" x="601.7" y="1183.8"/><use href="#m0" x="572.5" y="1243.8"/><use href="#m1" x="568.9" y="1215.6"/><use href="#m1" x="603.5" y="1221.3"/><use href="#m1" x="595.8" y="1241.4"/><use href="#m1" x="571.2" y="1200.4"/><use href="#m0" x="619.4" y="1256.5"/><use href="#m0" x="549.9" y="1183.2"/><use href="#m1" x="603.6" y="1288"/><use href="#m1" x="603.6" y="1227.7"/><use href="#m1" x="575.9" y="1146.3"/><use href="#m1" x="596.5" y="1272"/><use href="#m1" x="547.7" y="1246"/><use href="#m1" x="616.4" y="1215.2"/><use href="#m1" x="582.4" y="1220"/><use href="#m1" x="572.4" y="1210.4"/><use href="#m1" x="622.2" y="1217.7"/><use href="#m1" x="568" y="1197.6"/><use href="#m1" x="546.6" y="1172.5"/><use href="#m0" x="542.6" y="1200.1"/><use href="#m1" x="610.9" y="1244.7"/><use href="#m1" x="552.5" y="1192"/><use href="#m0" x="648" y="1166.7"/><use href="#m1" x="528.6" y="1218.7"/><use href="#m1" x="647.5" y="1284.3"/><use href="#m1" x="601.6" y="1187.1"/><use href="#m1" x="592.6" y="1234.9"/><use href="#m1" x="579.2" y="1315.5"/><use href="#m1" x="609.4" y="1199.7"/><use href="#m1" x="596.4" y="1252.9"/><use href="#m0" x="632.7" y="1244.2"/><use href="#m1" x="602.4" y="1219"/><use href="#m1" x="604.1" y="1225.2"/><use href="#m0" x="588.7" y="1199.9"/><use href="#m1" x="598.9" y="1249.5"/><use href="#m0" x="610.9" y="1213.8"/><use href="#m1" x="548.4" y="1229.1"/><use href="#m0" x="560.4" y="1191.3"/><use href="#m1" x="626.4" y="1213.7"/><use href="#m1" x="609.1" y="1272.6"/><use href="#m0" x="598.7" y="1187.1"/><use href="#m1" x="605.6" y="1255.4"/><use href="#m1" x="616.5" y="1203.2"/><use href="#m1" x="589.4" y="1214.1"/><use href="#m1" x="582.6" y="1152.1"/><use href="#m1" x="613.7" y="1244.7"/><use href="#m1" x="577.6" y="1240.4"/><use href="#m1" x="621.6" y="1238.4"/><use href="#m1" x="556.2" y="1232.9"/><use href="#m1" x="642.3" y="1210.3"/><use href="#m1" x="625.5" y="1304.8"/><use href="#m1" x="619.3" y="1280.1"/><use href="#m1" x="642.7" y="1286.8"/><use href="#m1" x="664.7" y="1210"/><use href="#m1" x="644.9" y="1173.7"/><use href="#m1" x="556.2" y="1224.8"/><use href="#m1" x="574.4" y="1232.2"/><use href="#m1" x="595.5" y="1227.9"/><use href="#m0" x="616.5" y="1188.7"/><use href="#m1" x="632.5" y="1278.4"/><use href="#m1" x="594.2" y="1220.7"/><use href="#m1" x="623.4" y="1198.2"/><use href="#m0" x="594.6" y="1210"/><use href="#m0" x="599.7" y="1224.1"/><use href="#m1" x="575.4" y="1184.5"/><use href="#m1" x="591.2" y="1340.3"/><use href="#m0" x="578.4" y="1198.6"/><use href="#m1" x="590.8" y="1256.3"/><use href="#m1" x="654.9" y="1321.3"/><use href="#m1" x="592.9" y="1209.2"/><use href="#m1" x="705.6" y="1203.3"/><use href="#m0" x="639.3" y="1247.9"/><use href="#m0" x="630.2" y="1200.9"/><use href="#m1" x="598.2" y="1165.5"/><use href="#m1" x="647.6" y="1190.6"/><use href="#m0" x="608.3" y="1167"/><use href="#m1" x="630.8" y="1209.6"/><use href="#m1" x="707.7" y="1257"/><use href="#m0" x="625.2" y="1304.1"/><use href="#m1" x="664.8" y="1259"/><use href="#m1" x="607.5" y="1268.4"/><use href="#m1" x="629" y="1150.7"/><use href="#m0" x="686.1" y="1261.7"/><use href="#m1" x="611.7" y="1230"/><use href="#m1" x="688.7" y="1232.6"/><use href="#m1" x="654.8" y="1244.5"/><use href="#m1" x="615.6" y="1166.7"/><use href="#m1" x="653.6" y="1271.5"/><use href="#m1" x="664.9" y="1241"/><use href="#m1" x="654.6" y="1276.6"/><use href="#m1" x="586.6" y="1282.5"/><use href="#m0" x="613.6" y="1260.6"/><use href="#m1" x="629.2" y="1241.1"/><use href="#m0" x="635.3" y="1258.8"/><use href="#m1" x="657.7" y="1275.4"/><use href="#m1" x="644.4" y="1301.1"/><use href="#m0" x="597.7" y="1234.8"/><use href="#m1" x="652" y="1307.2"/><use href="#m0" x="659.9" y="1216.5"/><use href="#m1" x="658.9" y="1244"/><use href="#m1" x="675.8" y="1311.5"/><use href="#m1" x="668.7" y="1262.6"/><use href="#m1" x="657.6" y="1277.8"/><use href="#m1" x="641.7" y="1229.8"/><use href="#m1" x="592.5" y="1175.1"/><use href="#m1" x="658.6" y="1324"/><use href="#m1" x="652.3" y="1240.9"/><use href="#m1" x="654.9" y="1252.9"/><use href="#m1" x="607.1" y="1206.3"/><use href="#m1" x="613.8" y="1226.8"/><use href="#m1" x="681.2" y="1284"/><use href="#m1" x="647.7" y="1257.5"/><use href="#m1" x="670.8" y="1283.1"/><use href="#m1" x="651" y="1201.3"/><use href="#m1" x="651.7" y="1244.6"/><use href="#m0" x="680.8" y="1175.3"/><use href="#m1" x="635.9" y="1243.8"/><use href="#m1" x="655.7" y="1275.5"/><use href="#m0" x="638.8" y="1304.1"/><use href="#m0" x="640.3" y="1316.3"/><use href="#m1" x="644.9" y="1308.5"/><use href="#m0" x="662.1" y="1237.3"/><use href="#m1" x="640.8" y="1221.8"/><use href="#m1" x="695.7" y="1321.7"/><use href="#m1" x="629" y="1202.9"/><use href="#m1" x="651.8" y="1265.3"/><use href="#m1" x="644.5" y="1237.6"/><use href="#m1" x="704.2" y="1193.2"/><use href="#m1" x="665.7" y="1212.4"/><use href="#m1" x="692.5" y="1267.1"/><use href="#m0" x="614.3" y="1272.2"/><use href="#m1" x="669.8" y="1338.3"/><use href="#m1" x="689.9" y="1284.9"/><use href="#m0" x="665.2" y="1257.7"/><use href="#m1" x="696.6" y="1297.6"/><use href="#m1" x="647.7" y="1249.8"/><use href="#m1" x="708.6" y="1257.2"/><use href="#m0" x="737.1" y="1277"/><use href="#m1" x="654.5" y="1272.8"/><use href="#m1" x="652.5" y="1238.8"/><use href="#m1" x="712.5" y="1243.3"/><use href="#m1" x="717.1" y="1307.2"/><use href="#m1" x="652" y="1187.8"/><use href="#m1" x="655.8" y="1250.6"/><use href="#m1" x="660.7" y="1247.1"/><use href="#m0" x="628.1" y="1210.3"/><use href="#m0" x="642.1" y="1233.4"/><use href="#m1" x="640" y="1203.4"/><use href="#m0" x="648" y="1232.8"/><use href="#m1" x="671.6" y="1275.8"/><use href="#m1" x="680.6" y="1238.3"/><use href="#m1" x="722.5" y="1310.8"/><use href="#m0" x="643.3" y="1238.8"/><use href="#m0" x="706" y="1261"/><use href="#m1" x="669.1" y="1258.6"/><use href="#m0" x="674.9" y="1256.8"/><use href="#m1" x="698.2" y="1334.7"/><use href="#m1" x="642.6" y="1265.6"/><use href="#m1" x="690.3" y="1251.8"/><use href="#m1" x="684.2" y="1247.4"/><use href="#m1" x="695" y="1298.9"/><use href="#m0" x="689.3" y="1203.5"/><use href="#m1" x="757.7" y="1308.7"/><use href="#m1" x="661.5" y="1208.4"/><use href="#m1" x="665.5" y="1231.6"/><use href="#m1" x="663.2" y="1274.9"/><use href="#m0" x="666" y="1176.5"/><use href="#m1" x="664" y="1297.6"/><use href="#m1" x="721.8" y="1226.2"/><use href="#m1" x="729.7" y="1224.9"/><use href="#m1" x="668" y="1277.2"/><use href="#m1" x="660.4" y="1190.8"/><use href="#m1" x="701.8" y="1268.8"/><use href="#m1" x="670.4" y="1238.6"/><use href="#m1" x="708.2" y="1249.6"/><use href="#m1" x="695.3" y="1262.4"/><use href="#m0" x="642.2" y="1209.8"/><use href="#m1" x="738.6" y="1235.7"/><use href="#m1" x="747" y="1342"/><use href="#m1" x="672.3" y="1197.5"/><use href="#m1" x="680" y="1320.9"/><use href="#m1" x="701.7" y="1216.3"/><use href="#m1" x="703.8" y="1213"/><use href="#m1" x="714.6" y="1306.6"/><use href="#m1" x="757.5" y="1290"/><use href="#m1" x="689.7" y="1300.7"/><use href="#m1" x="670.9" y="1259.3"/><use href="#m1" x="653.3" y="1258.5"/><use href="#m0" x="674.3" y="1219.5"/><use href="#m1" x="696.7" y="1203.6"/><use href="#m0" x="754.5" y="1215.3"/><use href="#m1" x="682.8" y="1276.6"/><use href="#m1" x="706.6" y="1268.4"/><use href="#m1" x="699.7" y="1327"/><use href="#m1" x="738.1" y="1301.1"/><use href="#m0" x="780.6" y="1239.7"/><use href="#m1" x="685.5" y="1188.2"/><use href="#m1" x="687.4" y="1305.4"/><use href="#m1" x="736.1" y="1291.8"/><use href="#m1" x="725.3" y="1265.8"/><use href="#m1" x="762.4" y="1263"/><use href="#m1" x="723.5" y="1297.4"/><use href="#m0" x="694.7" y="1239.4"/><use href="#m1" x="725" y="1284.1"/><use href="#m1" x="741.8" y="1269.7"/><use href="#m1" x="733.4" y="1244.5"/><use href="#m1" x="724.3" y="1264.2"/><use href="#m1" x="742.4" y="1287.1"/><use href="#m1" x="746.2" y="1274.7"/><use href="#m1" x="753.5" y="1275.7"/><use href="#m1" x="731.2" y="1281.4"/><use href="#m1" x="706.3" y="1270.4"/><use href="#m0" x="716.7" y="1197.1"/><use href="#m1" x="750.5" y="1248.4"/><use href="#m1" x="687.8" y="1267"/><use href="#m1" x="725.6" y="1236.3"/><use href="#m1" x="702.4" y="1272.4"/><use href="#m1" x="716.2" y="1214.3"/><use href="#m1" x="755.9" y="1257.6"/><use href="#m1" x="722.5" y="1268.4"/><use href="#m1" x="718.6" y="1244.7"/><use href="#m1" x="675.2" y="1315.9"/><use href="#m1" x="741.8" y="1315.2"/><use href="#m1" x="739.2" y="1317.3"/><use href="#m1" x="787.4" y="1275.1"/><use href="#m1" x="710.7" y="1190"/><use href="#m1" x="727.8" y="1174"/><use href="#m1" x="729.4" y="1239.7"/><use href="#m1" x="771.5" y="1256.3"/><use href="#m1" x="719.8" y="1337"/><use href="#m0" x="732.2" y="1288.7"/><use href="#m1" x="743.1" y="1301.6"/><use href="#m0" x="730.5" y="1291.5"/><use href="#m1" x="711.3" y="1268"/><use href="#m1" x="732" y="1285.8"/><use href="#m1" x="760.2" y="1354.9"/><use href="#m1" x="695.1" y="1226.2"/><use href="#m1" x="732" y="1310.4"/><use href="#m1" x="706.5" y="1250"/><use href="#m1" x="766.5" y="1190.6"/><use href="#m1" x="682" y="1291.1"/><use href="#m1" x="712.8" y="1365.1"/><use href="#m1" x="742.7" y="1281"/><use href="#m1" x="780.6" y="1234.1"/><use href="#m1" x="730.1" y="1185.8"/><use href="#m1" x="715.5" y="1312.5"/><use href="#m1" x="792.3" y="1261.9"/><use href="#m1" x="688.8" y="1274.2"/><use href="#m1" x="665.9" y="1253.5"/><use href="#m1" x="749.1" y="1162.7"/><use href="#m1" x="720.2" y="1324.9"/><use href="#m1" x="704.6" y="1248.9"/><use href="#m1" x="759.4" y="1254.5"/><use href="#m1" x="745.5" y="1225.6"/><use href="#m1" x="720.8" y="1259.6"/><use href="#m1" x="699" y="1245.3"/><use href="#m0" x="767" y="1291.7"/><use href="#m1" x="760.7" y="1263"/><use href="#m1" x="737.9" y="1282.1"/><use href="#m1" x="799.4" y="1258.7"/><use href="#m1" x="708.7" y="1275.5"/><use href="#m1" x="695.1" y="1241.4"/><use href="#m1" x="721.8" y="1265"/><use href="#m1" x="742.7" y="1223.2"/><use href="#m1" x="752.3" y="1273.9"/><use href="#m1" x="737.8" y="1340.6"/><use href="#m1" x="757" y="1221.4"/><use href="#m1" x="707.4" y="1297.1"/><use href="#m1" x="792.4" y="1309.1"/><use href="#m1" x="745.3" y="1294.4"/><use href="#m1" x="783.4" y="1223.7"/><use href="#m1" x="759.8" y="1361.2"/><use href="#m0" x="764" y="1146.4"/><use href="#m1" x="768.2" y="1232.7"/><use href="#m0" x="765" y="1266"/><use href="#m1" x="771.7" y="1279.1"/><use href="#m1" x="793.8" y="1271"/><use href="#m1" x="759" y="1252.2"/><use href="#m0" x="775.7" y="1251.5"/><use href="#m1" x="751.3" y="1248.8"/><use href="#m1" x="799.8" y="1280.6"/><use href="#m1" x="734.2" y="1275.1"/><use href="#m1" x="812.3" y="1293.7"/><use href="#m1" x="755.4" y="1280.6"/><use href="#m1" x="712.5" y="1215"/><use href="#m1" x="761.9" y="1250"/><use href="#m1" x="737.2" y="1388.2"/><use href="#m1" x="785.4" y="1253.6"/><use href="#m1" x="739.3" y="1260.4"/><use href="#m1" x="746.4" y="1271"/><use href="#m1" x="701.9" y="1274.5"/><use href="#m1" x="747.5" y="1224.5"/><use href="#m1" x="686.4" y="1215.8"/><use href="#m1" x="713.3" y="1293.2"/><use href="#m1" x="787.3" y="1264.3"/><use href="#m1" x="788.7" y="1321.1"/><use href="#m1" x="778.1" y="1335"/><use href="#m1" x="735.1" y="1293"/><use href="#m1" x="764.5" y="1239.7"/><use href="#m1" x="766.5" y="1236.5"/><use href="#m0" x="731" y="1245.2"/><use href="#m1" x="814.9" y="1258.5"/><use href="#m1" x="796" y="1262.1"/><use href="#m1" x="762.2" y="1300.7"/><use href="#m0" x="770.6" y="1258.9"/><use href="#m1" x="776.9" y="1245.5"/><use href="#m1" x="707.2" y="1229.1"/><use href="#m1" x="763.9" y="1226.2"/><use href="#m1" x="750.9" y="1242.5"/><use href="#m1" x="741.6" y="1254.6"/><use href="#m1" x="764.7" y="1231.3"/><use href="#m1" x="830.4" y="1293.3"/><use href="#m1" x="794.8" y="1319"/><use href="#m1" x="757.5" y="1279.9"/><use href="#m1" x="794" y="1313.2"/></g>
<path class="spine" d="M62.7 1000.1V1406.5H866.8"/><text class="tk" x="87.5" y="1423.6" text-anchor="middle">40</text><text class="tk" x="212.7" y="1423.6" text-anchor="middle">60</text><text class="tk" x="337.8" y="1423.6" text-anchor="middle">80</text><text class="tk" x="463" y="1423.6" text-anchor="middle">100</text><text class="tk" x="588.1" y="1423.6" text-anchor="middle">120</text><text class="tk" x="713.3" y="1423.6" text-anchor="middle">140</text><text class="tk" x="838.4" y="1423.6" text-anchor="middle">160</text><text class="tk" x="56.5" y="1366.3" text-anchor="end">6</text><text class="tk" x="56.5" y="1284.4" text-anchor="end">7</text><text class="tk" x="56.5" y="1202.5" text-anchor="end">8</text><text class="tk" x="56.5" y="1120.7" text-anchor="end">9</text><text class="tk" x="56.5" y="1038.8" text-anchor="end">10</text><path class="tick" opacity="1.0" d="M87.8 1406v-5M213 1406v-5M338.1 1406v-5M62.1 1359.2h5M62.1 1277.3h5M62.1 1195.4h5M62.1 1113.6h5M62.1 1031.7h5"/><path class="tick" opacity="0.85" d="M588.4 1406v-5M713.6 1406v-5"/><path class="tick" opacity="0.5" d="M463.3 1406v-5M838.7 1406v-5"/><text class="ti" x="464.6" y="992.1" text-anchor="middle">Stock Price vs Interest Rate</text><text class="lb" x="464.6" y="1445.7" text-anchor="middle">Stock Price</text><text class="lb" transform="translate(25.8 1203.8) rotate(-90)" text-anchor="middle">Interest Rate</text>
<rect class="lg" x="728.6" y="1007" width="131.3" height="66.3" rx="3.5" ry="3.5"/><text class="lt" x="794.2" y="1023.7" text-anchor="middle">Market Sentiment</text><path d="M780.1 1036.9l8 8m0-8l-8 8" stroke="#ff0000" stroke-width="2" fill="none"/><text class="lt" x="809.6" y="1044.6">0</text><path d="M780.1 1057.2l8 8m0-8l-8 8" stroke="#008000" stroke-width="2" fill="none"/><text class="lt" x="809.6" y="1064.9">1</text>
<path class="grid" opacity="1.0" d="M966.1 1406V999.5M1091.2 1406V999.5M1216.3 1406V999.5M1591.5 1406V999.5M1716.5 1406V999.5M940.4 1370.5H1746.4M940.4 1306.8H1746.4"/><path class="grid" opacity="0.5" d="M1341.3 1406V999.5M940.4 1243.1H1746.4M940.4 1115.7H1746.4M940.4 1052H1746.4"/><path class="grid" opacity="0.16" d="M1466.4 1406V999.5M940.4 1179.4H1746.4"/>
<g class="sc"><use href="#m0" x="1044.1" y="1309.1"/><use href="#m1" x="1024.9" y="1297.1"/><use href="#m0" x="1050.1" y="1311.3"/><use href="#m1" x="1078.1" y="1288.8"/><use href="#m0" x="1023.7" y="1353.1"/><use href="#m0" x="1024.4" y="1285.8"/><use href="#m0" x="1081.7" y="1278"/><use href="#m0" x="1056.9" y="1310.3"/><use href="#m0" x="1018.9" y="1273"/><use href="#m0" x="1051.2" y="1255.9"/><use href="#m0" x="1020.3" y="1344.8"/><use href="#m0" x="1020.9" y="1317.8"/><use href="#m0" x="1043.6" y="1312.2"/><use href="#m0" x="976.9" y="1334.6"/><use href="#m0" x="983.4" y="1276.6"/><use href="#m0" x="1020.4" y="1299.8"/><use href="#m0" x="1006.9" y="1305.5"/><use href="#m0" x="1049" y="1350.2"/><use href="#m0" x="1011.4" y="1275.7"/><use href="#m0" x="996.3" y="1339.2"/><use href="#m0" x="1086.9" y="1274.8"/><use href="#m0" x="1034.6" y="1281.2"/><use href="#m0" x="1044.4" y="1244.2"/><use href="#m0" x="998.4" y="1340.9"/><use href="#m0" x="1026.6" y="1388.2"/><use href="#m0" x="1047.7" y="1280.8"/><use href="#m0" x="1008.8" y="1239.2"/><use href="#m0" x="1057.2" y="1244.8"/><use href="#m0" x="1027.3" y="1285.2"/><use href="#m0" x="1037.6" y="1304.9"/><use href="#m0" x="1028.5" y="1265.9"/><use href="#m0" x="1105.9" y="1302.9"/><use href="#m0" x="1048.2" y="1271.4"/><use href="#m0" x="1016.1" y="1278.6"/><use href="#m1" x="1075.6" y="1245.8"/><use href="#m0" x="1012.3" y="1207.8"/><use href="#m1" x="1057.6" y="1271.6"/><use href="#m0" x="990.4" y="1317.5"/><use href="#m0" x="1010.8" y="1296.9"/><use href="#m0" x="1059.1" y="1340.1"/><use href="#m0" x="1076.7" y="1301.4"/><use href="#m0" x="1059.6" y="1296.7"/><use href="#m0" x="1051.2" y="1302.5"/><use href="#m0" x="1046.1" y="1282.2"/><use href="#m1" x="1009.9" y="1322.5"/><use href="#m0" x="1034.2" y="1254.4"/><use href="#m0" x="1042.9" y="1287.9"/><use href="#m0" x="1091" y="1275.9"/><use href="#m0" x="1069.3" y="1291.6"/><use href="#m0" x="1004.1" y="1292.8"/><use href="#m0" x="1070" y="1254.7"/><use href="#m1" x="1048.4" y="1314.1"/><use href="#m0" x="1039.9" y="1309.6"/><use href="#m0" x="1080.9" y="1287.9"/><use href="#m0" x="1094.6" y="1317.6"/><use href="#m0" x="1092.1" y="1301.5"/><use href="#m0" x="1037.4" y="1304.5"/><use href="#m0" x="1054.6" y="1257.1"/><use href="#m0" x="1075.2" y="1271.3"/><use href="#m0" x="1096" y="1268.2"/><use href="#m0" x="1051.1" y="1258.7"/><use href="#m0" x="1060.9" y="1287.7"/><use href="#m0" x="1032.8" y="1278"/><use href="#m0" x="1030.6" y="1294.3"/><use href="#m0" x="1094" y="1266.4"/><use href="#m0" x="1111.6" y="1288.9"/><use href="#m0" x="1067.6" y="1359.3"/><use href="#m0" x="1101.9" y="1277.2"/><use href="#m0" x="1082.4" y="1232.5"/><use href="#m0" x="1051.6" y="1256.2"/><use href="#m0" x="1083.7" y="1246.8"/><use href="#m0" x="1121.1" y="1228.6"/><use href="#m0" x="1072.5" y="1277.5"/><use href="#m0" x="1123.2" y="1261.2"/><use href="#m0" x="993" y="1320.3"/><use href="#m1" x="1101.2" y="1283.1"/><use href="#m0" x="1078.8" y="1259.1"/><use href="#m0" x="1067.4" y="1243.3"/><use href="#m0" x="1080.2" y="1282.8"/><use href="#m0" x="1015.9" y="1309.1"/><use href="#m1" x="1071.8" y="1280.5"/><use href="#m0" x="1090.4" y="1256.6"/><use href="#m1" x="1126.1" y="1312.7"/><use href="#m1" x="1064.3" y="1355.6"/><use href="#m1" x="1055.9" y="1302.1"/><use href="#m0" x="1066.1" y="1320.9"/><use href="#m0" x="1111" y="1286.7"/><use href="#m0" x="1093.3" y="1279.8"/><use href="#m0" x="1067.1" y="1296.2"/><use href="#m0" x="1100.3" y="1227"/><use href="#m0" x="1087.9" y="1266"/><use href="#m0" x="1115.8" y="1259.8"/><use href="#m0" x="1064.2" y="1262.7"/><use href="#m0" x="1076.5" y="1315.6"/><use href="#m0" x="1075.1" y="1246.6"/><use href="#m0" x="1042.3" y="1290.5"/><use href="#m0" x="1097.9" y="1252.5"/><use href="#m0" x="1097.4" y="1308.1"/><use href="#m0" x="1090.1" y="1325.4"/><use href="#m0" x="1083.2" y="1251.6"/><use href="#m1" x="1046.9" y="1274.9"/><use href="#m0" x="1078.6" y="1307.5"/><use href="#m0" x="1081.7" y="1305.7"/><use href="#m0" x="1067.9" y="1245.7"/><use href="#m0" x="1088.6" y="1314.1"/><use href="#m0" x="1106.9" y="1219.3"/><use href="#m0" x="1153.9" y="1288.3"/><use href="#m0" x="1101" y="1252.8"/><use href="#m0" x="1104.2" y="1282.7"/><use href="#m0" x="1094.5" y="1255.6"/><use href="#m0" x="1037.4" y="1306.6"/><use href="#m1" x="1097.2" y="1279.3"/><use href="#m1" x="1100.5" y="1271.9"/><use href="#m0" x="1176.3" y="1285.8"/><use href="#m0" x="1093.9" y="1251.3"/><use href="#m0" x="1110" y="1287.2"/><use href="#m0" x="1100.1" y="1280.6"/><use href="#m0" x="1065.3" y="1313.9"/><use href="#m1" x="1138.2" y="1345.2"/><use href="#m0" x="1126.6" y="1272.7"/><use href="#m0" x="1128.4" y="1189.3"/><use href="#m0" x="1075.9" y="1254.5"/><use href="#m1" x="1148.8" y="1261.5"/><use href="#m0" x="1061.7" y="1291.5"/><use href="#m0" x="1124.5" y="1266.4"/><use href="#m0" x="1175.3" y="1236.8"/><use href="#m0" x="1076.5" y="1317"/><use href="#m0" x="1090.3" y="1240.3"/><use href="#m1" x="1111.8" y="1247.6"/><use href="#m0" x="1093.6" y="1252.1"/><use href="#m0" x="1061.4" y="1269.2"/><use href="#m0" x="1112.7" y="1269.5"/><use href="#m0" x="1078" y="1257.5"/><use href="#m0" x="1126.6" y="1247.7"/><use href="#m0" x="1083.7" y="1288.8"/><use href="#m0" x="1161.5" y="1276"/><use href="#m0" x="1089.2" y="1272.9"/><use href="#m0" x="1104.2" y="1222.9"/><use href="#m0" x="1140.4" y="1302.5"/><use href="#m1" x="1077.1" y="1325.9"/><use href="#m0" x="1123.3" y="1262.2"/><use href="#m0" x="1157.7" y="1257"/><use href="#m0" x="1067.2" y="1276.2"/><use href="#m0" x="1123.8" y="1259.5"/><use href="#m0" x="1126.8" y="1273.6"/><use href="#m0" x="1143.8" y="1214.8"/><use href="#m0" x="1081.3" y="1329.1"/><use href="#m0" x="1079.3" y="1305"/><use href="#m0" x="1137.5" y="1267.1"/><use href="#m0" x="1131.1" y="1317.8"/><use href="#m1" x="1130.3" y="1271.2"/><use href="#m0" x="1133.9" y="1211.8"/><use href="#m0" x="1102.4" y="1272.1"/><use href="#m1" x="1131.6" y="1258"/><use href="#m1" x="1134.1" y="1304.8"/><use href="#m0" x="1103.2" y="1292.2"/><use href="#m0" x="1184.5" y="1263.8"/><use href="#m0" x="1141.6" y="1272.9"/><use href="#m0" x="1090.2" y="1235"/><use href="#m0" x="1148.6" y="1243.2"/><use href="#m0" x="1098.2" y="1309.2"/><use href="#m0" x="1153.9" y="1251.8"/><use href="#m0" x="1166.2" y="1240.6"/><use href="#m0" x="1104.9" y="1235.8"/><use href="#m0" x="1161.3" y="1207.4"/><use href="#m0" x="1144.7" y="1294.3"/><use href="#m0" x="1158.2" y="1284.4"/><use href="#m0" x="1192.4" y="1289.9"/><use href="#m1" x="1126" y="1274.2"/><use href="#m0" x="1110.8" y="1255.8"/><use href="#m0" x="1107.2" y="1240.1"/><use href="#m0" x="1110.1" y="1273.2"/><use href="#m0" x="1133.8" y="1274.9"/><use href="#m1" x="1147.5" y="1256.4"/><use href="#m0" x="1146.1" y="1288.2"/><use href="#m0" x="1164" y="1190.5"/><use href="#m0" x="1139.1" y="1314.6"/><use href="#m0" x="1184.8" y="1245.9"/><use href="#m0" x="1131.7" y="1200.8"/><use href="#m1" x="1225.7" y="1241.1"/><use href="#m0" x="1160.8" y="1263.9"/><use href="#m0" x="1115.1" y="1280.9"/><use href="#m0" x="1109" y="1276.8"/><use href="#m1" x="1158.2" y="1214.8"/><use href="#m0" x="1136.7" y="1334.4"/><use href="#m0" x="1166.7" y="1207.5"/><use href="#m0" x="1159.8" y="1303.5"/><use href="#m1" x="1143.3" y="1270.8"/><use href="#m0" x="1119.8" y="1282"/><use href="#m0" x="1099.5" y="1254.7"/><use href="#m0" x="1133.5" y="1315.7"/><use href="#m0" x="1174.9" y="1239.6"/><use href="#m0" x="1155.4" y="1194.8"/><use href="#m0" x="1110.4" y="1314.1"/><use href="#m0" x="1155.4" y="1253.2"/><use href="#m0" x="1162.7" y="1278.5"/><use href="#m0" x="1123.6" y="1253.8"/><use href="#m0" x="1156.7" y="1258.3"/><use href="#m0" x="1154.3" y="1280"/><use href="#m0" x="1117.4" y="1253.4"/><use href="#m0" x="1164.9" y="1199.4"/><use href="#m0" x="1171.9" y="1261.1"/><use href="#m0" x="1188.9" y="1227.8"/><use href="#m0" x="1188.6" y="1292"/><use href="#m0" x="1113.2" y="1300.5"/><use href="#m0" x="1127.6" y="1251.3"/><use href="#m0" x="1173.6" y="1207.3"/><use href="#m0" x="1174.2" y="1243.1"/><use href="#m0" x="1174.9" y="1264.3"/><use href="#m0" x="1279.8" y="1227.6"/><use href="#m0" x="1177.9" y="1293.4"/><use href="#m0" x="1196.1" y="1229.6"/><use href="#m0" x="1191.1" y="1222.1"/><use href="#m0" x="1182.3" y="1266.8"/><use href="#m1" x="1152.7" y="1274.9"/><use href="#m1" x="1186.9" y="1242.8"/><use href="#m0" x="1139.6" y="1277.2"/><use href="#m0" x="1157" y="1261"/><use href="#m0" x="1149.8" y="1193.8"/><use href="#m0" x="1168.2" y="1263.9"/><use href="#m0" x="1238.6" y="1249.5"/><use href="#m0" x="1108.5" y="1291.8"/><use href="#m0" x="1189" y="1227"/><use href="#m0" x="1117.7" y="1274.6"/><use href="#m0" x="1154" y="1280.3"/><use href="#m0" x="1203.4" y="1204.9"/><use href="#m0" x="1172" y="1209.8"/><use href="#m0" x="1137" y="1283.1"/><use href="#m0" x="1148.9" y="1320.3"/><use href="#m0" x="1193.2" y="1217.5"/><use href="#m0" x="1149.7" y="1282.5"/><use href="#m1" x="1179.9" y="1227.8"/><use href="#m0" x="1175.2" y="1316.9"/><use href="#m1" x="1154" y="1231.2"/><use href="#m1" x="1242.1" y="1275.8"/><use href="#m1" x="1195.5" y="1225.8"/><use href="#m0" x="1113" y="1269.6"/><use href="#m0" x="1182.7" y="1282.7"/><use href="#m1" x="1156.8" y="1271.8"/><use href="#m0" x="1204.8" y="1224.8"/><use href="#m0" x="1154" y="1256.2"/><use href="#m0" x="1175.8" y="1235.4"/><use href="#m0" x="1195.8" y="1186"/><use href="#m0" x="1207.7" y="1295.7"/><use href="#m0" x="1143.8" y="1210.7"/><use href="#m0" x="1171.5" y="1251.8"/><use href="#m1" x="1167.7" y="1284.7"/><use href="#m0" x="1162.7" y="1299.7"/><use href="#m1" x="1239" y="1244"/><use href="#m0" x="1197.1" y="1219.3"/><use href="#m0" x="1145.6" y="1265.8"/><use href="#m0" x="1214.4" y="1196.1"/><use href="#m1" x="1252.7" y="1280.7"/><use href="#m0" x="1219.2" y="1243.4"/><use href="#m0" x="1140" y="1303"/><use href="#m0" x="1173" y="1243.2"/><use href="#m1" x="1228.4" y="1212.4"/><use href="#m1" x="1167.3" y="1269.6"/><use href="#m0" x="1203.9" y="1329.8"/><use href="#m0" x="1214.9" y="1237.8"/><use href="#m0" x="1162.3" y="1243.6"/><use href="#m0" x="1190.1" y="1237.5"/><use href="#m0" x="1091.2" y="1236.2"/><use href="#m0" x="1161.2" y="1291.9"/><use href="#m0" x="1185.9" y="1229.8"/><use href="#m1" x="1155.4" y="1221.3"/><use href="#m0" x="1246.1" y="1292.8"/><use href="#m1" x="1151" y="1250.2"/><use href="#m0" x="1182.6" y="1268.4"/><use href="#m0" x="1201" y="1250.2"/><use href="#m0" x="1242.6" y="1226"/><use href="#m0" x="1153.3" y="1275.3"/><use href="#m0" x="1235.2" y="1260.5"/><use href="#m0" x="1199.8" y="1246.9"/><use href="#m0" x="1169.4" y="1290.3"/><use href="#m0" x="1215.1" y="1278.6"/><use href="#m1" x="1207.5" y="1224.3"/><use href="#m0" x="1183.2" y="1288.8"/><use href="#m0" x="1204.8" y="1225.5"/><use href="#m0" x="1191.2" y="1235.4"/><use href="#m0" x="1207.4" y="1301"/><use href="#m1" x="1225.2" y="1263.1"/><use href="#m0" x="1254.7" y="1195.9"/><use href="#m0" x="1167" y="1287.5"/><use href="#m0" x="1273" y="1244.1"/><use href="#m0" x="1145.9" y="1246.9"/><use href="#m1" x="1202.8" y="1222.2"/><use href="#m0" x="1226.6" y="1249.1"/><use href="#m1" x="1217.6" y="1262.4"/><use href="#m0" x="1190" y="1205.1"/><use href="#m0" x="1203.6" y="1191.6"/><use href="#m1" x="1195.3" y="1217.9"/><use href="#m0" x="1192.9" y="1247"/><use href="#m0" x="1238.5" y="1263.8"/><use href="#m0" x="1223.8" y="1268.3"/><use href="#m0" x="1191.6" y="1233.4"/><use href="#m0" x="1242" y="1223.9"/><use href="#m0" x="1224.1" y="1197.1"/><use href="#m0" x="1240.5" y="1216.9"/><use href="#m0" x="1235.4" y="1286.7"/><use href="#m0" x="1190.4" y="1216.8"/><use href="#m0" x="1199.5" y="1279.8"/><use href="#m0" x="1241" y="1249.7"/><use href="#m0" x="1237.3" y="1230.4"/><use href="#m1" x="1218.2" y="1179.7"/><use href="#m0" x="1223.1" y="1143"/><use href="#m1" x="1260.1" y="1213.3"/><use href="#m0" x="1202.2" y="1253.2"/><use href="#m0" x="1238.5" y="1221.1"/><use href="#m0" x="1215.7" y="1215.6"/><use href="#m0" x="1215.8" y="1254.1"/><use href="#m0" x="1257.6" y="1176.1"/><use href="#m0" x="1249.7" y="1227.9"/><use href="#m0" x="1249.9" y="1219.3"/><use href="#m1" x="1265.9" y="1209.9"/><use href="#m0" x="1226.4" y="1227.7"/><use href="#m0" x="1247.7" y="1209"/><use href="#m0" x="1217.3" y="1263.1"/><use href="#m0" x="1237.7" y="1256.1"/><use href="#m0" x="1224.2" y="1276.8"/><use href="#m0" x="1231.9" y="1225.8"/><use href="#m1" x="1248.1" y="1210.8"/><use href="#m1" x="1204.5" y="1232.2"/><use href="#m1" x="1296.2" y="1170.1"/><use href="#m0" x="1199.9" y="1248.1"/><use href="#m1" x="1194" y="1228.1"/><use href="#m0" x="1268.8" y="1265.1"/><use href="#m0" x="1258" y="1245.4"/><use href="#m0" x="1253.4" y="1212.1"/><use href="#m0" x="1254.1" y="1207.1"/><use href="#m0" x="1234.7" y="1248.4"/><use href="#m0" x="1207.7" y="1248.2"/><use href="#m0" x="1238.7" y="1286.4"/><use href="#m0" x="1215.8" y="1255.2"/><use href="#m1" x="1268.1" y="1202.2"/><use href="#m0" x="1233.7" y="1221"/><use href="#m0" x="1213.1" y="1228.6"/><use href="#m0" x="1229.5" y="1238.8"/><use href="#m0" x="1253" y="1234.2"/><use href="#m0" x="1223.1" y="1263"/><use href="#m0" x="1215.7" y="1221.6"/><use href="#m1" x="1249.6" y="1221.8"/><use href="#m1" x="1250.3" y="1219.4"/><use href="#m0" x="1227.4" y="1257.7"/><use href="#m0" x="1229.2" y="1309"/><use href="#m0" x="1251.8" y="1199.8"/><use href="#m0" x="1199.9" y="1263.2"/><use href="#m1" x="1201.8" y="1274.9"/><use href="#m0" x="1223.9" y="1219.7"/><use href="#m0" x="1240.3" y="1250.1"/><use href="#m1" x="1257.4" y="1199.5"/><use href="#m0" x="1294.4" y="1204.2"/><use href="#m0" x="1275.7" y="1206.8"/><use href="#m0" x="1244.5" y="1280.1"/><use href="#m0" x="1249.6" y="1196.7"/><use href="#m1" x="1219.4" y="1234.6"/><use href="#m1" x="1250.8" y="1246.7"/><use href="#m0" x="1243" y="1232.4"/><use href="#m0" x="1262.7" y="1288.5"/><use href="#m0" x="1227.4" y="1227.9"/><use href="#m0" x="1270.1" y="1262.8"/><use href="#m0" x="1302.5" y="1264.9"/><use href="#m0" x="1251.8" y="1283.2"/><use href="#m0" x="1268.3" y="1195.1"/><use href="#m0" x="1278" y="1248.1"/><use href="#m0" x="1244.5" y="1187.7"/><use href="#m0" x="1264.7" y="1248.5"/><use href="#m0" x="1258.7" y="1287.3"/><use href="#m0" x="1262" y="1267.7"/><use href="#m1" x="1235.4" y="1199.5"/><use href="#m0" x="1260.9" y="1237.3"/><use href="#m0" x="1276.4" y="1245.9"/><use href="#m1" x="1306.8" y="1215.6"/><use href="#m1" x="1292" y="1208.5"/><use href="#m1" x="1330" y="1179.2"/><use href="#m1" x="1239.3" y="1191.8"/><use href="#m0" x="1291.2" y="1236.1"/><use href="#m0" x="1270.3" y="1272.2"/><use href="#m0" x="1333.6" y="1227"/><use href="#m0" x="1240.5" y="1229.3"/><use href="#m0" x="1240.2" y="1268.4"/><use href="#m0" x="1248.3" y="1266.1"/><use href="#m0" x="1201.3" y="1236.6"/><use href="#m0" x="1251.9" y="1236.2"/><use href="#m0" x="1245.2" y="1235.3"/><use href="#m0" x="1274.3" y="1253.1"/><use href="#m1" x="1280.9" y="1234.6"/><use href="#m1" x="1329.5" y="1244.4"/><use href="#m1" x="1301.1" y="1193.8"/><use href="#m1" x="1254" y="1201.2"/><use href="#m0" x="1244.6" y="1295.3"/><use href="#m1" x="1288.7" y="1254.9"/><use href="#m0" x="1232.7" y="1287.2"/><use href="#m0" x="1331.8" y="1235"/><use href="#m0" x="1312.1" y="1222"/><use href="#m0" x="1261.1" y="1278.5"/><use href="#m0" x="1222.9" y="1271.4"/><use href="#m1" x="1319.4" y="1249.5"/><use href="#m1" x="1274.1" y="1222.4"/><use href="#m0" x="1317" y="1215.9"/><use href="#m0" x="1229.1" y="1263.5"/><use href="#m1" x="1260.8" y="1226.8"/><use href="#m0" x="1280.4" y="1244.8"/><use href="#m0" x="1282.3" y="1235.6"/><use href="#m0" x="1267.4" y="1177.4"/><use href="#m0" x="1301.5" y="1179.3"/><use href="#m0" x="1249.3" y="1276.7"/><use href="#m0" x="1278.9" y="1201.4"/><use href="#m0" x="1287.7" y="1199.7"/><use href="#m1" x="1300.7" y="1258.8"/><use href="#m0" x="1307.5" y="1194.5"/><use href="#m0" x="1250.7" y="1186"/><use href="#m0" x="1238.5" y="1273.8"/><use href="#m1" x="1327" y="1244.8"/><use href="#m0" x="1298.1" y="1190.5"/><use href="#m0" x="1264.9" y="1222.7"/><use href="#m1" x="1337.5" y="1195.3"/><use href="#m0" x="1293.2" y="1213.3"/><use href="#m0" x="1327.1" y="1203.1"/><use href="#m1" x="1292.9" y="1266.5"/><use href="#m0" x="1355.9" y="1174.8"/><use href="#m0" x="1347" y="1173.2"/><use href="#m0" x="1284.9" y="1233.6"/><use href="#m1" x="1323.7" y="1217.8"/><use href="#m0" x="1314.1" y="1267.6"/><use href="#m1" x="1337.4" y="1196.5"/><use href="#m0" x="1265" y="1213.1"/><use href="#m0" x="1317.3" y="1220"/><use href="#m1" x="1329.6" y="1179.1"/><use href="#m0" x="1242.1" y="1247.8"/><use href="#m0" x="1260.7" y="1214.4"/><use href="#m1" x="1234.6" y="1271.6"/><use href="#m0" x="1290.6" y="1225.6"/><use href="#m0" x="1322" y="1222.4"/><use href="#m1" x="1347.2" y="1203.2"/><use href="#m1" x="1303.2" y="1233.4"/><use href="#m0" x="1352.4" y="1213.3"/><use href="#m0" x="1259" y="1206.6"/><use href="#m1" x="1249.5" y="1249.2"/><use href="#m0" x="1301.6" y="1273.2"/><use href="#m1" x="1316" y="1162.6"/><use href="#m0" x="1303.6" y="1177.5"/><use href="#m0" x="1240.6" y="1278.7"/><use href="#m1" x="1303.1" y="1199.7"/><use href="#m0" x="1265.7" y="1247.2"/><use href="#m0" x="1328.1" y="1206.9"/><use href="#m1" x="1319.2" y="1208.2"/><use href="#m1" x="1279" y="1235.2"/><use href="#m0" x="1292.9" y="1249.2"/><use href="#m0" x="1276.5" y="1250.4"/><use href="#m0" x="1308.3" y="1249.5"/><use href="#m1" x="1340.7" y="1238.5"/><use href="#m0" x="1280.7" y="1229.5"/><use href="#m1" x="1327.9" y="1238.1"/><use href="#m1" x="1296.2" y="1201.7"/><use href="#m0" x="1288.6" y="1178"/><use href="#m0" x="1310.7" y="1238.2"/><use href="#m0" x="1282.3" y="1219.3"/><use href="#m0" x="1297.9" y="1207"/><use href="#m1" x="1278.4" y="1212.9"/><use href="#m1" x="1377.9" y="1200.2"/><use href="#m0" x="1318.2" y="1194.1"/><use href="#m1" x="1295.9" y="1208.1"/><use href="#m0" x="1325.1" y="1255.5"/><use href="#m1" x="1315.5" y="1190.8"/><use href="#m0" x="1312.7" y="1190.9"/><use href="#m1" x="1339.5" y="1236.7"/><use href="#m0" x="1344.6" y="1209.9"/><use href="#m1" x="1304.9" y="1199.4"/><use href="#m1" x="1304.1" y="1228"/><use href="#m0" x="1314.2" y="1184.6"/><use href="#m0" x="1251.4" y="1159.5"/><use href="#m0" x="1276.6" y="1253.4"/><use href="#m0" x="1367.4" y="1249.3"/><use href="#m1" x="1376.7" y="1193.2"/><use href="#m0" x="1318.1" y="1194.8"/><use href="#m1" x="1344.5" y="1218.4"/><use href="#m0" x="1336.9" y="1166.8"/><use href="#m1" x="1424" y="1233.5"/><use href="#m0" x="1363.4" y="1184.2"/><use href="#m0" x="1325" y="1235.4"/><use href="#m0" x="1299.8" y="1167.7"/><use href="#m0" x="1280" y="1164.1"/><use href="#m1" x="1337.3" y="1237.4"/><use href="#m1" x="1307.9" y="1237.9"/><use href="#m0" x="1287.7" y="1198.2"/><use href="#m0" x="1312.6" y="1231.6"/><use href="#m1" x="1299.6" y="1224"/><use href="#m1" x="1386.8" y="1199.5"/><use href="#m1" x="1362.2" y="1267.7"/><use href="#m1" x="1335" y="1213.9"/><use href="#m0" x="1382.2" y="1223.5"/><use href="#m0" x="1339" y="1228.2"/><use href="#m0" x="1310.2" y="1173.8"/><use href="#m1" x="1385.4" y="1240.7"/><use href="#m1" x="1355.3" y="1182.5"/><use href="#m0" x="1306.6" y="1229.6"/><use href="#m1" x="1333.7" y="1222.8"/><use href="#m0" x="1312.9" y="1194"/><use href="#m1" x="1297.7" y="1212.2"/><use href="#m0" x="1370.5" y="1186.3"/><use href="#m1" x="1401.9" y="1165.7"/><use href="#m1" x="1299.1" y="1233.2"/><use href="#m1" x="1361" y="1226.4"/><use href="#m0" x="1323.7" y="1251"/><use href="#m1" x="1329.4" y="1241.2"/><use href="#m1" x="1326.8" y="1121.7"/><use href="#m1" x="1318.9" y="1178"/><use href="#m1" x="1348.1" y="1253.2"/><use href="#m1" x="1321.2" y="1259.1"/><use href="#m1" x="1356.3" y="1192.8"/><use href="#m0" x="1346.9" y="1193.1"/><use href="#m0" x="1341.6" y="1194.4"/><use href="#m0" x="1321.3" y="1225.1"/><use href="#m1" x="1332.3" y="1218.2"/><use href="#m1" x="1374.5" y="1193"/><use href="#m1" x="1367.2" y="1202.6"/><use href="#m0" x="1321.6" y="1287.6"/><use href="#m0" x="1355.9" y="1215.5"/><use href="#m0" x="1376.9" y="1230"/><use href="#m1" x="1301.9" y="1216.4"/><use href="#m1" x="1371.7" y="1109.1"/><use href="#m1" x="1334.6" y="1201.9"/><use href="#m0" x="1373.8" y="1213.6"/><use href="#m0" x="1332.7" y="1184.7"/><use href="#m1" x="1300.8" y="1206.9"/><use href="#m0" x="1306.9" y="1207.3"/><use href="#m0" x="1359.9" y="1187.8"/><use href="#m1" x="1367.2" y="1139.8"/><use href="#m0" x="1331.4" y="1250.4"/><use href="#m1" x="1380.3" y="1186.9"/><use href="#m1" x="1309" y="1249.6"/><use href="#m1" x="1359.5" y="1189.6"/><use href="#m0" x="1324.3" y="1245.5"/><use href="#m0" x="1342.4" y="1224.9"/><use href="#m0" x="1364.9" y="1215.3"/><use href="#m0" x="1337.2" y="1181.9"/><use href="#m1" x="1352.7" y="1179.8"/><use href="#m1" x="1396.8" y="1237.5"/><use href="#m1" x="1347.9" y="1208.5"/><use href="#m0" x="1392.7" y="1221.4"/><use href="#m1" x="1331.9" y="1254.4"/><use href="#m0" x="1384.4" y="1207.8"/><use href="#m1" x="1413.5" y="1203.3"/><use href="#m1" x="1291.8" y="1147.2"/><use href="#m0" x="1344.8" y="1197.2"/><use href="#m0" x="1388.4" y="1243.8"/><use href="#m0" x="1364.6" y="1224"/><use href="#m0" x="1383.2" y="1168.7"/><use href="#m0" x="1353.3" y="1142.3"/><use href="#m1" x="1375.5" y="1253.7"/><use href="#m0" x="1368.6" y="1264.8"/><use href="#m1" x="1410.6" y="1134.7"/><use href="#m0" x="1382.7" y="1189"/><use href="#m1" x="1385.9" y="1228.2"/><use href="#m0" x="1363.1" y="1189.3"/><use href="#m0" x="1361.3" y="1290.7"/><use href="#m1" x="1363.7" y="1206.1"/><use href="#m1" x="1390.2" y="1189"/><use href="#m0" x="1365.3" y="1176.4"/><use href="#m0" x="1388.2" y="1232.3"/><use href="#m1" x="1444.6" y="1182.9"/><use href="#m1" x="1407.6" y="1224.5"/><use href="#m0" x="1370.8" y="1196.3"/><use href="#m1" x="1419.2" y="1220.6"/><use href="#m1" x="1369.5" y="1217.7"/><use href="#m0" x="1319.1" y="1249.3"/><use href="#m1" x="1352" y="1188.5"/><use href="#m0" x="1325.6" y="1188.6"/><use href="#m1" x="1373.7" y="1211.1"/><use href="#m1" x="1385.9" y="1199.3"/><use href="#m1" x="1438.4" y="1233.3"/><use href="#m1" x="1396.8" y="1207.3"/><use href="#m1" x="1380.4" y="1203.6"/><use href="#m1" x="1413.8" y="1110"/><use href="#m1" x="1319.4" y="1252.9"/><use href="#m1" x="1396.5" y="1151.2"/><use href="#m1" x="1413.8" y="1161.7"/><use href="#m1" x="1344.1" y="1202.2"/><use href="#m1" x="1426.8" y="1134.1"/><use href="#m1" x="1402.2" y="1184.6"/><use href="#m1" x="1379.3" y="1189.8"/><use href="#m0" x="1412.7" y="1195.4"/><use href="#m1" x="1464.5" y="1141.6"/><use href="#m0" x="1399.8" y="1162.1"/><use href="#m1" x="1402.5" y="1216.2"/><use href="#m1" x="1381" y="1243.8"/><use href="#m1" x="1369.4" y="1211.2"/><use href="#m1" x="1422.6" y="1216.7"/><use href="#m1" x="1370.5" y="1206.5"/><use href="#m0" x="1400.1" y="1157.5"/><use href="#m1" x="1383.6" y="1215.7"/><use href="#m0" x="1414.1" y="1194.7"/><use href="#m0" x="1410.2" y="1192.5"/><use href="#m1" x="1432.8" y="1161.6"/><use href="#m1" x="1385.1" y="1272.3"/><use href="#m1" x="1393.2" y="1218"/><use href="#m1" x="1371.7" y="1197.5"/><use href="#m1" x="1389" y="1161.5"/><use href="#m1" x="1415.3" y="1208.7"/><use href="#m1" x="1427.8" y="1249.6"/><use href="#m1" x="1375.9" y="1183.4"/><use href="#m0" x="1432.6" y="1208.9"/><use href="#m1" x="1448.4" y="1222.5"/><use href="#m0" x="1419.6" y="1211.9"/><use href="#m1" x="1465.9" y="1186"/><use href="#m1" x="1383.7" y="1220.4"/><use href="#m1" x="1369.6" y="1274.9"/><use href="#m1" x="1353.5" y="1180.2"/><use href="#m1" x="1456.5" y="1142"/><use href="#m1" x="1430.9" y="1168.4"/><use href="#m0" x="1409.3" y="1230.8"/><use href="#m1" x="1420.4" y="1198.2"/><use href="#m1" x="1377.1" y="1203"/><use href="#m1" x="1489.4" y="1155.1"/><use href="#m1" x="1417.6" y="1171.2"/><use href="#m1" x="1417.6" y="1215.9"/><use href="#m1" x="1437.5" y="1184.8"/><use href="#m1" x="1430.4" y="1174.6"/><use href="#m0" x="1423" y="1144.7"/><use href="#m1" x="1391.9" y="1176.6"/><use href="#m0" x="1432" y="1163.7"/><use href="#m1" x="1476.8" y="1174.7"/><use href="#m1" x="1460.6" y="1136.6"/><use href="#m1" x="1469" y="1166.3"/><use href="#m1" x="1403.8" y="1223.4"/><use href="#m1" x="1389.5" y="1154.9"/><use href="#m0" x="1417.1" y="1170.4"/><use href="#m0" x="1423.4" y="1205.1"/><use href="#m1" x="1456.5" y="1197.8"/><use href="#m1" x="1370" y="1195.2"/><use href="#m0" x="1471.4" y="1164"/><use href="#m1" x="1419.2" y="1185.8"/><use href="#m1" x="1411.4" y="1184.1"/><use href="#m1" x="1393.8" y="1144.4"/><use href="#m0" x="1374.3" y="1169.4"/><use href="#m0" x="1452.4" y="1177.5"/><use href="#m1" x="1429.6" y="1159.4"/><use href="#m0" x="1387.6" y="1233"/><use href="#m0" x="1388.1" y="1187.3"/><use href="#m1" x="1418.7" y="1134.6"/><use href="#m1" x="1482" y="1183"/><use href="#m1" x="1422.3" y="1218.3"/><use href="#m0" x="1384.1" y="1221.8"/><use href="#m1" x="1424" y="1225.6"/><use href="#m0" x="1423.8" y="1215.9"/><use href="#m1" x="1348.6" y="1221.8"/><use href="#m0" x="1431.9" y="1233.6"/><use href="#m1" x="1427" y="1189.6"/><use href="#m1" x="1456.6" y="1153.8"/><use href="#m0" x="1493.2" y="1202.1"/><use href="#m0" x="1471.3" y="1130.4"/><use href="#m0" x="1428.3" y="1173.5"/><use href="#m1" x="1402.7" y="1163.4"/><use href="#m1" x="1518.4" y="1187.8"/><use href="#m1" x="1440.4" y="1159.5"/><use href="#m1" x="1439.6" y="1221.6"/><use href="#m1" x="1439.1" y="1158.7"/><use href="#m1" x="1446.6" y="1179.6"/><use href="#m1" x="1436.6" y="1170"/><use href="#m0" x="1423.8" y="1228.4"/><use href="#m1" x="1425.2" y="1219"/><use href="#m1" x="1441.9" y="1167.3"/><use href="#m1" x="1426.6" y="1220.4"/><use href="#m1" x="1421.9" y="1176.6"/><use href="#m1" x="1448.2" y="1228.2"/><use href="#m0" x="1437.5" y="1160.4"/><use href="#m0" x="1493.1" y="1212.5"/><use href="#m0" x="1363.8" y="1188.6"/><use href="#m0" x="1481.5" y="1156.3"/><use href="#m1" x="1486.9" y="1197"/><use href="#m1" x="1383.8" y="1182.6"/><use href="#m1" x="1438.5" y="1178.9"/><use href="#m1" x="1438.2" y="1204.4"/><use href="#m1" x="1406.5" y="1227.4"/><use href="#m1" x="1426.8" y="1252.7"/><use href="#m1" x="1417" y="1181.5"/><use href="#m1" x="1507.1" y="1219.5"/><use href="#m1" x="1482.2" y="1173"/><use href="#m1" x="1493.3" y="1181.6"/><use href="#m1" x="1476.8" y="1155.8"/><use href="#m1" x="1419.5" y="1201.6"/><use href="#m1" x="1439.1" y="1197.5"/><use href="#m0" x="1471.4" y="1155.5"/><use href="#m1" x="1418.5" y="1181.6"/><use href="#m1" x="1479.6" y="1166.6"/><use href="#m0" x="1450.5" y="1169.2"/><use href="#m1" x="1446.9" y="1233.9"/><use href="#m1" x="1481.5" y="1152.1"/><use href="#m1" x="1473.7" y="1158.7"/><use href="#m1" x="1449.2" y="1216.8"/><use href="#m0" x="1497.4" y="1179.9"/><use href="#m0" x="1427.9" y="1191.1"/><use href="#m1" x="1481.6" y="1180.5"/><use href="#m1" x="1481.5" y="1165.6"/><use href="#m1" x="1453.9" y="1137.6"/><use href="#m1" x="1474.4" y="1143.6"/><use href="#m1" x="1425.7" y="1232.2"/><use href="#m1" x="1494.4" y="1153.1"/><use href="#m1" x="1460.3" y="1139.3"/><use href="#m1" x="1450.4" y="1171.8"/><use href="#m1" x="1500.2" y="1136.7"/><use href="#m1" x="1446" y="1121.2"/><use href="#m1" x="1424.6" y="1158.1"/><use href="#m0" x="1420.6" y="1183.8"/><use href="#m1" x="1488.8" y="1141.1"/><use href="#m1" x="1430.5" y="1184.6"/><use href="#m0" x="1526" y="1164.1"/><use href="#m1" x="1406.6" y="1206.5"/><use href="#m1" x="1525.4" y="1115.2"/><use href="#m1" x="1479.6" y="1202.8"/><use href="#m1" x="1470.6" y="1130.2"/><use href="#m1" x="1457.2" y="1166.5"/><use href="#m1" x="1487.4" y="1219.3"/><use href="#m1" x="1474.3" y="1166.3"/><use href="#m0" x="1510.6" y="1235.7"/><use href="#m1" x="1480.3" y="1156.6"/><use href="#m1" x="1482.1" y="1147.9"/><use href="#m0" x="1466.6" y="1198.9"/><use href="#m1" x="1476.8" y="1173.5"/><use href="#m0" x="1488.9" y="1112.1"/><use href="#m1" x="1426.4" y="1206.3"/><use href="#m0" x="1438.4" y="1220.9"/><use href="#m1" x="1504.4" y="1123.2"/><use href="#m1" x="1487.1" y="1112.3"/><use href="#m0" x="1476.6" y="1177.3"/><use href="#m1" x="1483.6" y="1143.5"/><use href="#m1" x="1494.5" y="1130.2"/><use href="#m1" x="1467.4" y="1203.4"/><use href="#m1" x="1460.6" y="1197"/><use href="#m1" x="1491.6" y="1134.4"/><use href="#m1" x="1455.5" y="1129.2"/><use href="#m1" x="1499.5" y="1153.7"/><use href="#m1" x="1434.2" y="1216.3"/><use href="#m1" x="1520.2" y="1103.1"/><use href="#m1" x="1503.4" y="1187.5"/><use href="#m1" x="1497.3" y="1182.9"/><use href="#m1" x="1520.6" y="1155.3"/><use href="#m1" x="1542.6" y="1111.2"/><use href="#m1" x="1522.9" y="1138.5"/><use href="#m1" x="1434.2" y="1175"/><use href="#m1" x="1452.4" y="1168.9"/><use href="#m1" x="1473.5" y="1176.9"/><use href="#m0" x="1494.5" y="1155.1"/><use href="#m1" x="1510.5" y="1249.4"/><use href="#m1" x="1472.2" y="1188"/><use href="#m1" x="1501.4" y="1163.5"/><use href="#m0" x="1472.5" y="1215.1"/><use href="#m0" x="1477.7" y="1164.9"/><use href="#m1" x="1453.4" y="1189.9"/><use href="#m1" x="1469.2" y="1123.4"/><use href="#m0" x="1456.4" y="1132.5"/><use href="#m1" x="1468.8" y="1194.3"/><use href="#m1" x="1532.9" y="1167.9"/><use href="#m1" x="1470.9" y="1181.3"/><use href="#m1" x="1583.5" y="1164.6"/><use href="#m0" x="1517.2" y="1160.9"/><use href="#m0" x="1508.2" y="1193.6"/><use href="#m1" x="1476.2" y="1213.6"/><use href="#m1" x="1525.6" y="1145.2"/><use href="#m0" x="1486.3" y="1154.9"/><use href="#m1" x="1508.7" y="1194.9"/><use href="#m1" x="1585.6" y="1121.2"/><use href="#m0" x="1503.2" y="1190.8"/><use href="#m1" x="1542.7" y="1152.6"/><use href="#m1" x="1485.4" y="1149.1"/><use href="#m1" x="1507" y="1170.8"/><use href="#m0" x="1564" y="1140.7"/><use href="#m1" x="1489.7" y="1190.6"/><use href="#m1" x="1566.6" y="1160.8"/><use href="#m1" x="1532.7" y="1169.7"/><use href="#m1" x="1493.6" y="1196.9"/><use href="#m1" x="1531.6" y="1169.1"/><use href="#m1" x="1542.8" y="1209.9"/><use href="#m1" x="1532.5" y="1178.9"/><use href="#m1" x="1464.6" y="1189.6"/><use href="#m0" x="1491.6" y="1181.8"/><use href="#m1" x="1507.2" y="1177.4"/><use href="#m0" x="1513.2" y="1170.1"/><use href="#m1" x="1535.6" y="1147.2"/><use href="#m1" x="1522.4" y="1137.9"/><use href="#m0" x="1475.7" y="1198.4"/><use href="#m1" x="1530" y="1202.2"/><use href="#m0" x="1537.8" y="1195.1"/><use href="#m1" x="1536.8" y="1177.6"/><use href="#m1" x="1553.7" y="1169"/><use href="#m1" x="1546.6" y="1184.1"/><use href="#m1" x="1535.6" y="1203.7"/><use href="#m1" x="1519.6" y="1181"/><use href="#m1" x="1470.5" y="1173.2"/><use href="#m1" x="1536.5" y="1143.3"/><use href="#m1" x="1530.2" y="1181.6"/><use href="#m1" x="1532.8" y="1176.3"/><use href="#m1" x="1485" y="1204.8"/><use href="#m1" x="1491.8" y="1174.6"/><use href="#m1" x="1559.1" y="1183.5"/><use href="#m1" x="1525.6" y="1146.7"/><use href="#m1" x="1548.8" y="1216"/><use href="#m1" x="1529" y="1175.6"/><use href="#m1" x="1529.6" y="1154.4"/><use href="#m0" x="1558.7" y="1150.7"/><use href="#m1" x="1513.8" y="1082.2"/><use href="#m1" x="1533.6" y="1151.8"/><use href="#m0" x="1516.8" y="1199.2"/><use href="#m0" x="1518.3" y="1169.9"/><use href="#m1" x="1522.8" y="1222.3"/><use href="#m0" x="1540" y="1163.9"/><use href="#m1" x="1518.7" y="1193.3"/><use href="#m1" x="1573.6" y="1123.6"/><use href="#m1" x="1507" y="1187.2"/><use href="#m1" x="1529.7" y="1167.6"/><use href="#m1" x="1522.5" y="1186"/><use href="#m1" x="1582.1" y="1095.2"/><use href="#m1" x="1543.6" y="1170.6"/><use href="#m1" x="1570.4" y="1095.2"/><use href="#m0" x="1492.3" y="1147.5"/><use href="#m1" x="1547.7" y="1144"/><use href="#m1" x="1567.8" y="1142.5"/><use href="#m0" x="1543.2" y="1148"/><use href="#m1" x="1574.5" y="1213.9"/><use href="#m1" x="1525.7" y="1173.8"/><use href="#m1" x="1586.5" y="1122.5"/><use href="#m0" x="1615" y="1143.8"/><use href="#m1" x="1532.4" y="1208"/><use href="#m1" x="1530.4" y="1165.4"/><use href="#m1" x="1590.4" y="1094.2"/><use href="#m1" x="1595" y="1107.6"/><use href="#m1" x="1529.9" y="1165.9"/><use href="#m1" x="1533.7" y="1132.6"/><use href="#m1" x="1538.7" y="1173.3"/><use href="#m0" x="1506.1" y="1224.2"/><use href="#m0" x="1520" y="1195.8"/><use href="#m1" x="1518" y="1117.1"/><use href="#m0" x="1526" y="1173.6"/><use href="#m1" x="1549.5" y="1166.6"/><use href="#m1" x="1558.6" y="1166.1"/><use href="#m1" x="1600.3" y="1085.3"/><use href="#m0" x="1521.3" y="1114.3"/><use href="#m0" x="1583.9" y="1079.5"/><use href="#m1" x="1547.1" y="1164.6"/><use href="#m0" x="1552.8" y="1148.6"/><use href="#m1" x="1576.1" y="1200.4"/><use href="#m1" x="1520.5" y="1119.2"/><use href="#m1" x="1568.2" y="1191.3"/><use href="#m1" x="1562.1" y="1148.8"/><use href="#m1" x="1572.9" y="1187.9"/><use href="#m0" x="1567.2" y="1173.1"/><use href="#m1" x="1635.5" y="1163.7"/><use href="#m1" x="1539.4" y="1180.8"/><use href="#m1" x="1543.4" y="1177.6"/><use href="#m1" x="1541.1" y="1178.5"/><use href="#m0" x="1543.9" y="1133.8"/><use href="#m1" x="1542" y="1196"/><use href="#m1" x="1599.7" y="1139.1"/><use href="#m1" x="1607.6" y="1105.3"/><use href="#m1" x="1545.9" y="1176.2"/><use href="#m1" x="1538.4" y="1184.6"/><use href="#m1" x="1579.8" y="1158.5"/><use href="#m1" x="1548.4" y="1121.6"/><use href="#m1" x="1586.1" y="1143.4"/><use href="#m1" x="1573.2" y="1169.8"/><use href="#m0" x="1520.1" y="1151"/><use href="#m1" x="1616.5" y="1176.9"/><use href="#m1" x="1624.9" y="1118"/><use href="#m1" x="1550.2" y="1145.7"/><use href="#m1" x="1557.9" y="1166.6"/><use href="#m1" x="1579.6" y="1177.9"/><use href="#m1" x="1581.7" y="1178.9"/><use href="#m1" x="1592.5" y="1130.9"/><use href="#m1" x="1635.4" y="1097.9"/><use href="#m1" x="1567.6" y="1174.6"/><use href="#m1" x="1548.8" y="1144.5"/><use href="#m1" x="1531.3" y="1230"/><use href="#m0" x="1552.2" y="1176.8"/><use href="#m1" x="1574.6" y="1153.5"/><use href="#m0" x="1632.4" y="1166.8"/><use href="#m1" x="1560.7" y="1185.9"/><use href="#m1" x="1584.5" y="1171.2"/><use href="#m1" x="1577.6" y="1142.4"/><use href="#m1" x="1615.9" y="1147.9"/><use href="#m0" x="1658.4" y="1202.4"/><use href="#m1" x="1563.4" y="1222.9"/><use href="#m1" x="1565.4" y="1174.2"/><use href="#m1" x="1613.9" y="1127.9"/><use href="#m1" x="1603.2" y="1232.7"/><use href="#m1" x="1640.3" y="1151.7"/><use href="#m1" x="1601.4" y="1162.4"/><use href="#m0" x="1572.6" y="1108.8"/><use href="#m1" x="1602.9" y="1157.6"/><use href="#m1" x="1619.7" y="1128.8"/><use href="#m1" x="1611.3" y="1138.7"/><use href="#m1" x="1602.2" y="1213.3"/><use href="#m1" x="1620.3" y="1116.4"/><use href="#m1" x="1624.1" y="1133"/><use href="#m1" x="1631.4" y="1121.9"/><use href="#m1" x="1609.1" y="1018.7"/><use href="#m1" x="1584.2" y="1216.4"/><use href="#m0" x="1594.6" y="1092.5"/><use href="#m1" x="1628.4" y="1148"/><use href="#m1" x="1565.8" y="1145.6"/><use href="#m1" x="1603.5" y="1146.6"/><use href="#m1" x="1580.3" y="1164.6"/><use href="#m1" x="1594.1" y="1165.7"/><use href="#m1" x="1633.8" y="1126.9"/><use href="#m1" x="1600.4" y="1194.2"/><use href="#m1" x="1596.5" y="1123"/><use href="#m1" x="1553.2" y="1171.2"/><use href="#m1" x="1619.6" y="1177"/><use href="#m1" x="1617.1" y="1156"/><use href="#m1" x="1665.2" y="1089.4"/><use href="#m1" x="1588.6" y="1166"/><use href="#m1" x="1605.7" y="1133.2"/><use href="#m1" x="1607.2" y="1167.5"/><use href="#m1" x="1649.4" y="1109.3"/><use href="#m1" x="1597.7" y="1124.8"/><use href="#m0" x="1610" y="1084.6"/><use href="#m1" x="1621" y="1146.3"/><use href="#m0" x="1608.4" y="1122.6"/><use href="#m1" x="1589.2" y="1145.7"/><use href="#m1" x="1609.9" y="1102.2"/><use href="#m1" x="1638" y="1159.2"/><use href="#m1" x="1573" y="1129.2"/><use href="#m1" x="1609.9" y="1149.7"/><use href="#m1" x="1584.4" y="1152"/><use href="#m1" x="1644.3" y="1131.8"/><use href="#m1" x="1560" y="1148.2"/><use href="#m1" x="1590.7" y="1152.1"/><use href="#m1" x="1620.6" y="1133.9"/><use href="#m1" x="1658.4" y="1080.9"/><use href="#m1" x="1608" y="1112.6"/><use href="#m1" x="1593.3" y="1120"/><use href="#m1" x="1670.2" y="1142.7"/><use href="#m1" x="1566.7" y="1182.8"/><use href="#m1" x="1543.8" y="1129.9"/><use href="#m1" x="1627" y="1111.3"/><use href="#m1" x="1598.1" y="1099.6"/><use href="#m1" x="1582.5" y="1169.7"/><use href="#m1" x="1637.2" y="1143.9"/><use href="#m1" x="1623.3" y="1192.3"/><use href="#m1" x="1598.7" y="1158.9"/><use href="#m1" x="1576.9" y="1120.2"/><use href="#m0" x="1644.9" y="1149.5"/><use href="#m1" x="1638.6" y="1115.8"/><use href="#m1" x="1615.7" y="1148.1"/><use href="#m1" x="1677.2" y="1116.1"/><use href="#m1" x="1586.6" y="1186"/><use href="#m1" x="1573" y="1150.2"/><use href="#m1" x="1599.7" y="1241.4"/><use href="#m1" x="1620.6" y="1146.8"/><use href="#m1" x="1630.2" y="1190.3"/><use href="#m1" x="1615.7" y="1103.6"/><use href="#m1" x="1634.9" y="1112.4"/><use href="#m1" x="1585.3" y="1134.9"/><use href="#m1" x="1670.2" y="1079.7"/><use href="#m1" x="1623.2" y="1170.4"/><use href="#m1" x="1661.3" y="1074.8"/><use href="#m1" x="1637.7" y="1106.7"/><use href="#m0" x="1641.9" y="1142.9"/><use href="#m1" x="1646.1" y="1098.1"/><use href="#m0" x="1642.9" y="1170.4"/><use href="#m1" x="1649.6" y="1159.7"/><use href="#m1" x="1671.7" y="1147.2"/><use href="#m1" x="1636.9" y="1153.5"/><use href="#m0" x="1653.5" y="1166.1"/><use href="#m1" x="1629.2" y="1099.6"/><use href="#m1" x="1677.6" y="1134.5"/><use href="#m1" x="1612.1" y="1131.7"/><use href="#m1" x="1690.2" y="1141.2"/><use href="#m1" x="1633.2" y="1195.6"/><use href="#m1" x="1590.4" y="1139.9"/><use href="#m1" x="1639.8" y="1196.8"/><use href="#m1" x="1615.1" y="1144.4"/><use href="#m1" x="1663.3" y="1173.5"/><use href="#m1" x="1617.2" y="1078.4"/><use href="#m1" x="1624.3" y="1110.8"/><use href="#m1" x="1579.8" y="1147.8"/><use href="#m1" x="1625.4" y="1099.3"/><use href="#m1" x="1564.3" y="1182.1"/><use href="#m1" x="1591.2" y="1131"/><use href="#m1" x="1665.2" y="1123.1"/><use href="#m1" x="1666.6" y="1120.7"/><use href="#m1" x="1655.9" y="1091.3"/><use href="#m1" x="1613" y="1119.4"/><use href="#m1" x="1642.4" y="1126"/><use href="#m1" x="1644.4" y="1187.4"/><use href="#m0" x="1608.9" y="1174.3"/><use href="#m1" x="1692.8" y="1126.3"/><use href="#m1" x="1673.8" y="1124.3"/><use href="#m1" x="1640.1" y="1171.8"/><use href="#m0" x="1648.5" y="1056.9"/><use href="#m1" x="1654.8" y="1083.8"/><use href="#m1" x="1585.1" y="1130.7"/><use href="#m1" x="1641.8" y="1133.1"/><use href="#m1" x="1628.8" y="1145.5"/><use href="#m1" x="1619.5" y="1171.4"/><use href="#m1" x="1642.6" y="1132.7"/><use href="#m1" x="1708.2" y="1110.3"/><use href="#m1" x="1672.7" y="1167.1"/><use href="#m1" x="1635.4" y="1126.4"/><use href="#m1" x="1671.8" y="1132.7"/></g>
<path class="spine" d="M941 1000.1V1406.5H1744.6"/><text class="tk" x="965.8" y="1423.6" text-anchor="middle">40</text><text class="tk" x="1090.9" y="1423.6" text-anchor="middle">60</text><text class="tk" x="1216" y="1423.6" text-anchor="middle">80</text><text class="tk" x="1341" y="1423.6" text-anchor="middle">100</text><text class="tk" x="1466.1" y="1423.6" text-anchor="middle">120</text><text class="tk" x="1591.2" y="1423.6" text-anchor="middle">140</text><text class="tk" x="1716.2" y="1423.6" text-anchor="middle">160</text><text class="tk" x="934.8" y="1377.6" text-anchor="end">0</text><text class="tk" x="934.8" y="1313.9" text-anchor="end">20</text><text class="tk" x="934.8" y="1250.2" text-anchor="end">40</text><text class="tk" x="934.8" y="1186.5" text-anchor="end">60</text><text class="tk" x="934.8" y="1122.8" text-anchor="end">80</text><text class="tk" x="934.8" y="1059.1" text-anchor="end">100</text><path class="tick" opacity="1.0" d="M966.1 1406v-5M1091.2 1406v-5M1216.3 1406v-5M1591.5 1406v-5M1716.5 1406v-5M940.4 1370.5h5M940.4 1306.8h5"/><path class="tick" opacity="0.85" d="M1341.3 1406v-5M940.4 1243.1h5M940.4 1115.7h5M940.4 1052h5"/><path class="tick" opacity="0.5" d="M1466.4 1406v-5M940.4 1179.4h5"/><text class="ti" x="1342.7" y="992.1" text-anchor="middle">Stock Price vs Economic Indicator</text><text class="lb" x="1342.7" y="1445.7" text-anchor="middle">Stock Price</text><text class="lb" transform="translate(894.2 1203.8) rotate(-90)" text-anchor="middle">Economic Indicator</text>
<rect class="lg" x="947.6" y="1007" width="131.3" height="66.3" rx="3.5" ry="3.5"/><text class="lt" x="1013.2" y="1023.7" text-anchor="middle">Market Sentiment</text><path d="M999.1 1036.9l8 8m0-8l-8 8" stroke="#ff0000" stroke-width="2" fill="none"/><text class="lt" x="1028.6" y="1044.6">0</text><path d="M999.1 1057.2l8 8m0-8l-8 8" stroke="#008000" stroke-width="2" fill="none"/><text class="lt" x="1028.6" y="1064.9">1</text></svg></body></html>
